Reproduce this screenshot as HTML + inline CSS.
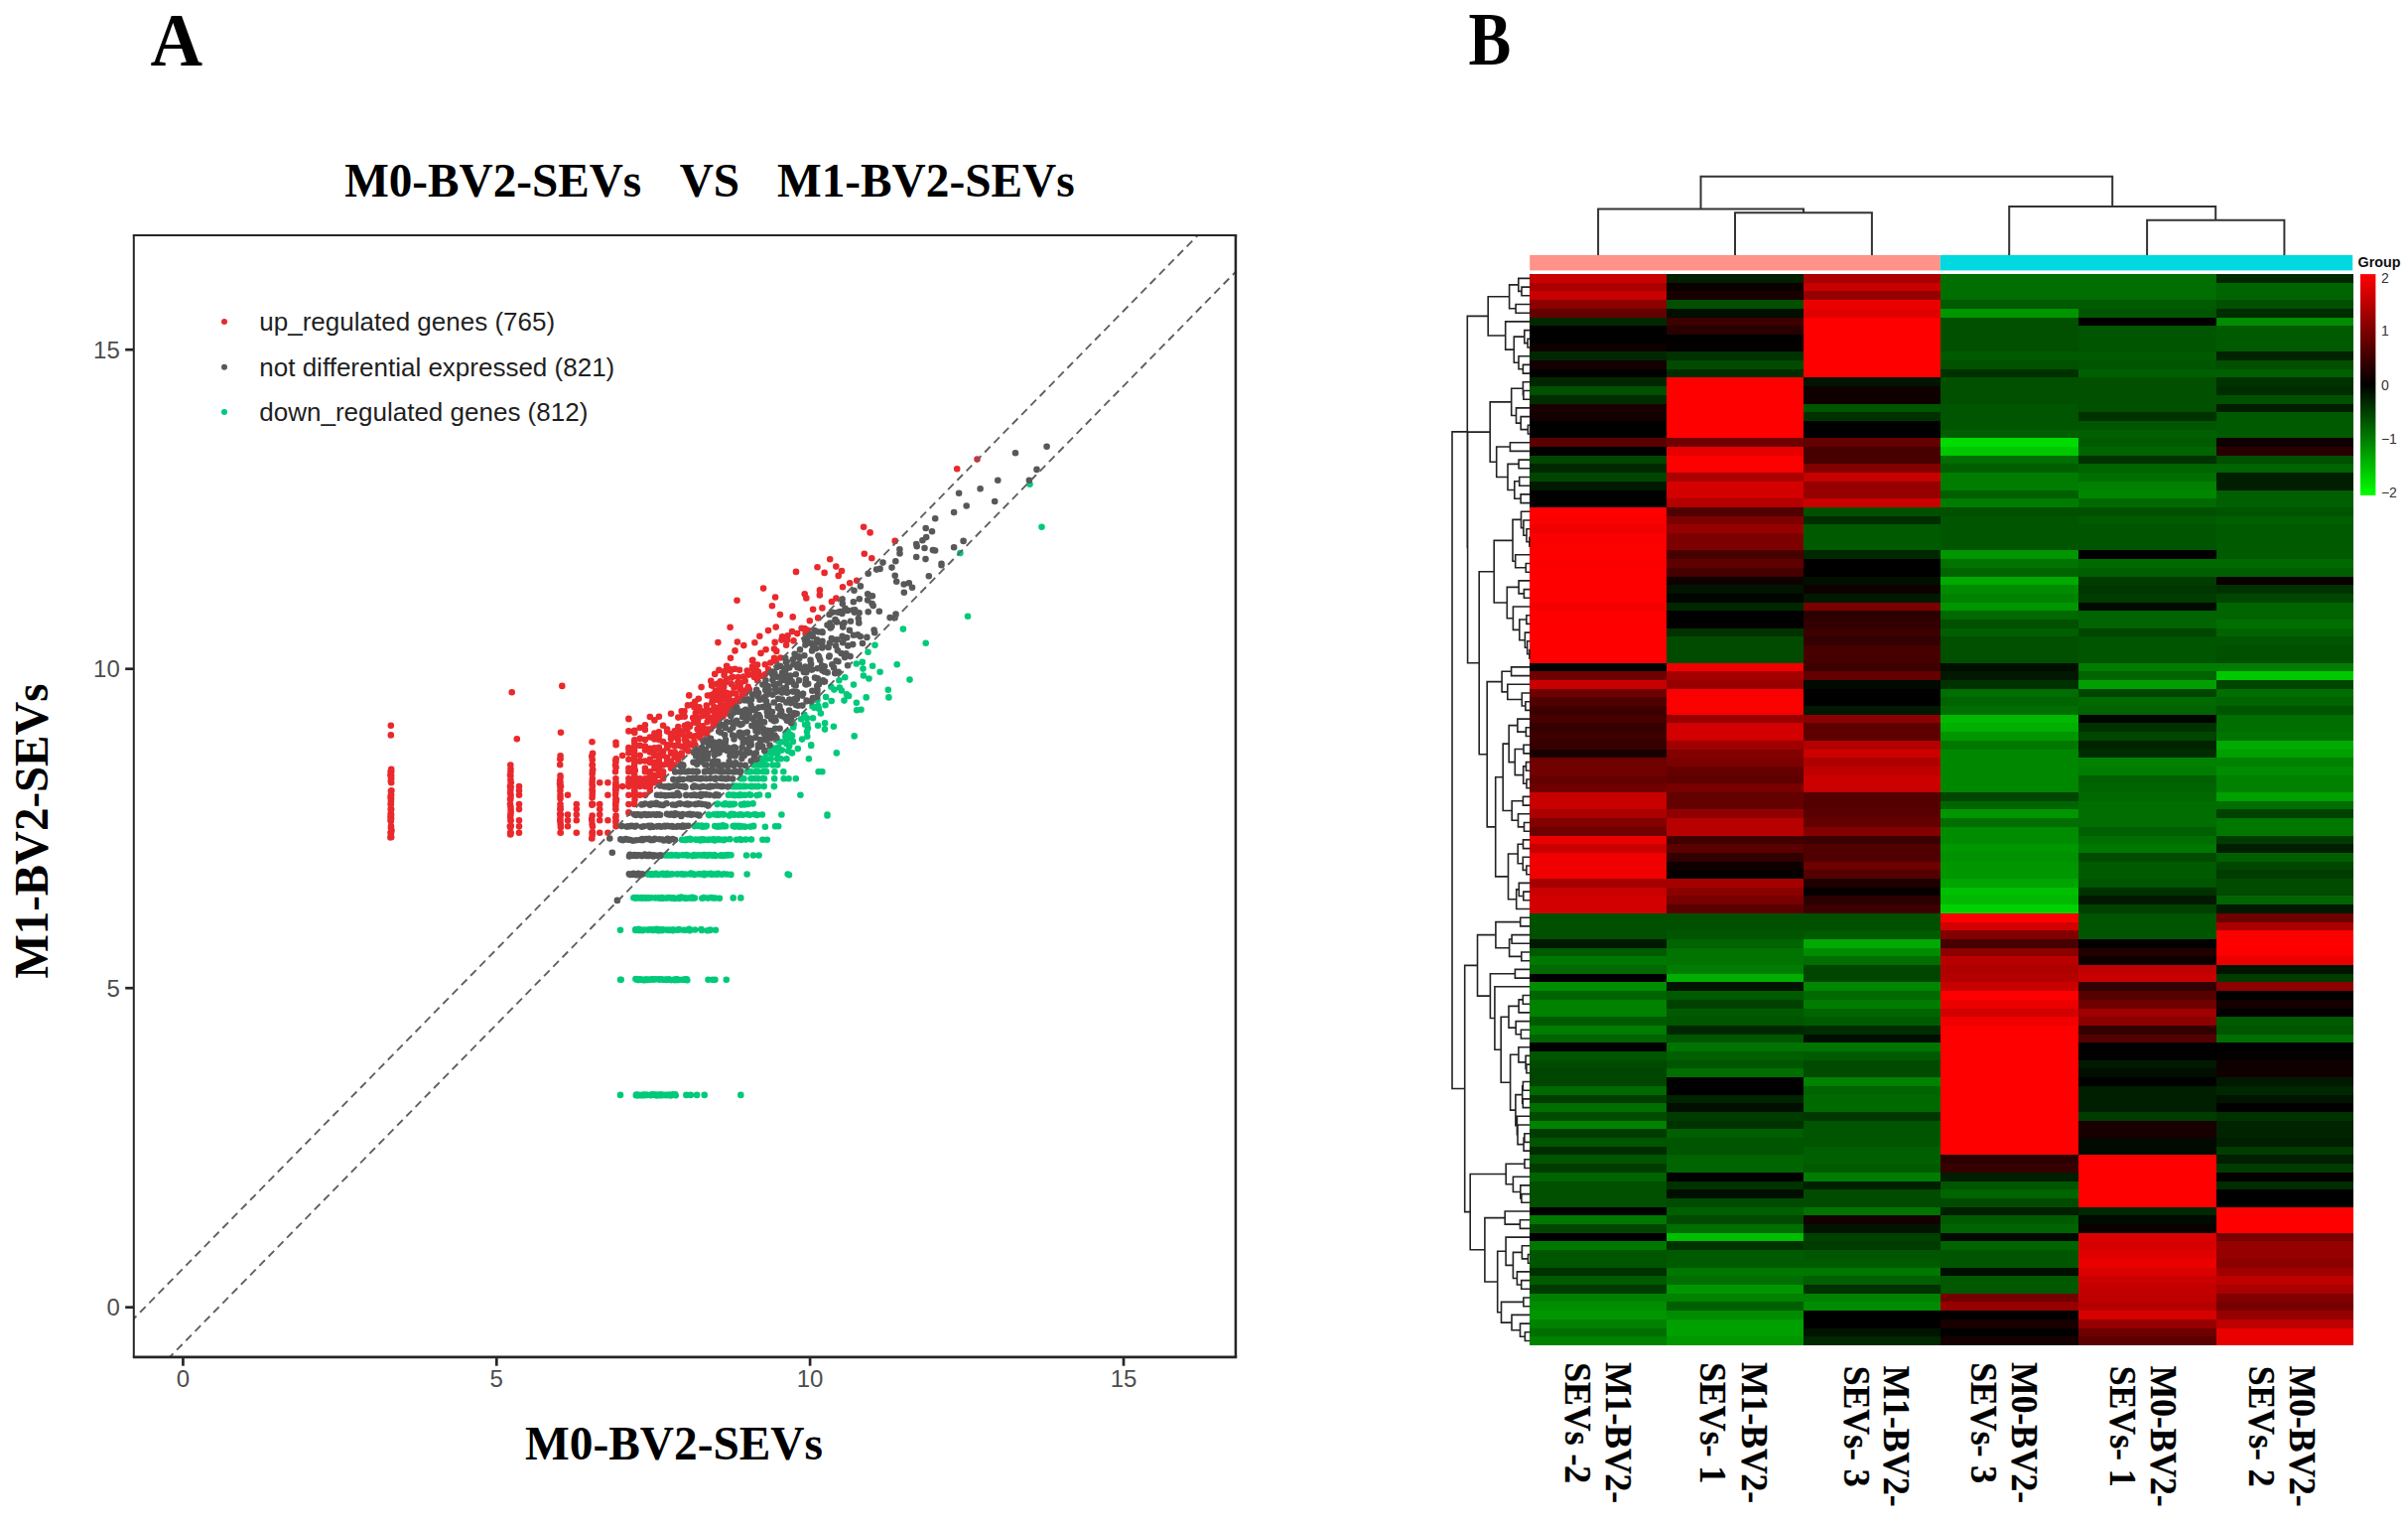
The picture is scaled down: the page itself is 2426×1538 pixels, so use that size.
<!DOCTYPE html>
<html lang="en"><head><meta charset="utf-8"><title>Figure</title>
<style>html,body{margin:0;padding:0;background:#fff}svg{display:block}</style></head>
<body>
<svg width="2426" height="1538" viewBox="0 0 2426 1538" role="img" aria-label="Scatter plot and heatmap">
<rect width="2426" height="1538" fill="#fff"/>
<text x="151.4" y="65.8" font-size="76" textLength="52.6" lengthAdjust="spacingAndGlyphs" font-family="'Liberation Serif', serif" font-weight="bold">A</text>
<text x="1479.6" y="64.8" font-size="75.5" textLength="42.8" lengthAdjust="spacingAndGlyphs" font-family="'Liberation Serif', serif" font-weight="bold">B</text>
<text x="347.2" y="197.9" font-size="47.5" textLength="299" lengthAdjust="spacingAndGlyphs" font-family="'Liberation Serif', serif" font-weight="bold">M0-BV2-SEVs</text>
<text x="684.7" y="197.9" font-size="47.5" textLength="60.4" lengthAdjust="spacingAndGlyphs" font-family="'Liberation Serif', serif" font-weight="bold">VS</text>
<text x="783" y="197.9" font-size="47.5" textLength="299.6" lengthAdjust="spacingAndGlyphs" font-family="'Liberation Serif', serif" font-weight="bold">M1-BV2-SEVs</text>
<text x="529" y="1470.3" font-size="47.5" textLength="300" lengthAdjust="spacingAndGlyphs" font-family="'Liberation Serif', serif" font-weight="bold">M0-BV2-SEVs</text>
<text transform="translate(48.0 985.5) rotate(-90)" font-size="47.5" textLength="297" lengthAdjust="spacingAndGlyphs" font-family="'Liberation Serif', serif" font-weight="bold">M1-BV2-SEVs</text>
<clipPath id="pc"><rect x="134.8" y="236.9" width="1110.1" height="1130.0"/></clipPath>
<g clip-path="url(#pc)">
<path d="M393.8 820.5h0M393.8 787.0h0M393.9 823.6h0M393.6 802.0h0M394.0 832.2h0M393.8 802.2h0M393.9 810.0h0M394.0 796.9h0M394.2 784.3h0M393.6 819.9h0M393.9 815.4h0M393.8 810.2h0M394.2 815.1h0M393.4 780.7h0M393.9 796.7h0M393.9 807.4h0M393.9 842.5h0M394.1 824.4h0M393.6 810.0h0M394.5 836.2h0M393.9 810.0h0M393.9 816.0h0M394.2 781.3h0M393.4 843.4h0M393.5 838.7h0M393.6 777.2h0M393.9 833.7h0M393.7 814.9h0M394.2 774.8h0M393.9 806.0h0M394.4 796.3h0M394.3 776.9h0M394.1 804.4h0M393.8 826.2h0M393.8 777.2h0M394.1 800.5h0M394.1 838.7h0M394.2 788.2h0M394.2 843.3h0M394.1 820.4h0M393.5 826.2h0M393.5 823.0h0M394.0 784.1h0M393.5 803.3h0M393.8 827.2h0M394.0 800.7h0M514.4 840.3h0M514.4 777.2h0M513.8 832.2h0M514.3 770.5h0M514.7 838.7h0M514.6 800.7h0M514.2 823.2h0M514.1 792.1h0M514.5 840.2h0M514.1 792.7h0M514.4 795.8h0M514.8 831.9h0M514.5 820.5h0M514.5 819.5h0M514.5 803.2h0M514.6 815.1h0M514.0 780.8h0M514.6 816.6h0M514.4 781.6h0M514.4 826.4h0M514.7 826.2h0M514.4 826.2h0M514.6 788.2h0M514.4 785.5h0M514.5 812.9h0M514.4 826.2h0M514.6 838.7h0M514.2 840.4h0M514.1 838.7h0M514.1 798.5h0M514.5 826.2h0M514.0 805.0h0M514.0 792.1h0M514.7 792.8h0M514.5 774.6h0M514.3 820.5h0M514.8 788.2h0M514.7 817.7h0M514.3 833.5h0M514.3 805.2h0M514.0 810.0h0M514.3 780.5h0M564.3 789.8h0M564.3 788.2h0M564.5 788.0h0M564.5 781.2h0M564.2 786.1h0M564.3 792.1h0M565.0 792.1h0M564.5 800.7h0M564.2 770.3h0M564.3 764.4h0M564.7 815.1h0M564.2 819.8h0M564.3 815.1h0M564.5 802.6h0M565.0 820.5h0M564.3 820.5h0M564.6 764.2h0M564.4 796.4h0M564.2 826.2h0M564.6 782.7h0M564.5 823.7h0M564.6 838.7h0M564.6 812.7h0M564.5 804.2h0M564.7 829.9h0M564.8 838.7h0M564.9 833.2h0M564.5 826.2h0M564.6 828.7h0M564.7 820.5h0M564.6 820.5h0M564.6 761.3h0M564.0 789.3h0M564.5 823.7h0M564.8 831.6h0M564.5 810.0h0M596.7 841.0h0M596.6 770.4h0M596.5 838.7h0M596.8 776.9h0M597.0 832.2h0M596.9 796.7h0M596.9 770.5h0M597.2 775.4h0M596.4 844.4h0M596.3 809.7h0M596.8 784.3h0M596.4 810.8h0M596.6 787.6h0M597.3 810.0h0M596.6 789.9h0M596.6 830.2h0M596.2 844.5h0M596.8 840.2h0M596.1 824.9h0M596.7 800.8h0M596.7 821.5h0M596.7 779.4h0M596.3 826.2h0M596.9 838.0h0M596.6 838.7h0M596.6 803.2h0M596.9 791.7h0M596.7 764.9h0M597.1 758.9h0M596.8 784.3h0M596.5 747.3h0M596.8 765.1h0M596.5 795.6h0M596.2 761.8h0M596.8 796.3h0M596.8 798.2h0M620.1 795.2h0M620.3 805.2h0M620.5 747.7h0M620.2 765.9h0M620.3 808.6h0M620.3 798.2h0M620.6 821.5h0M620.3 827.7h0M620.7 764.2h0M621.0 792.1h0M620.0 770.5h0M620.5 832.2h0M620.6 750.3h0M620.4 784.3h0M620.3 811.6h0M620.6 832.2h0M620.5 788.2h0M620.4 814.9h0M620.1 800.8h0M620.2 790.1h0M620.3 815.1h0M620.4 793.1h0M620.5 767.3h0M620.2 809.9h0M620.3 823.6h0M620.6 826.2h0M620.3 792.1h0M620.7 795.0h0M621.0 805.2h0M620.8 807.3h0M620.6 773.1h0M620.7 805.2h0M620.4 806.8h0M620.0 777.2h0M639.5 791.8h0M639.1 796.3h0M639.5 805.2h0M639.3 801.4h0M639.5 788.2h0M639.2 782.3h0M639.3 738.0h0M638.9 752.9h0M639.6 788.2h0M639.1 780.7h0M639.2 796.3h0M639.2 797.4h0M639.1 796.3h0M638.9 765.6h0M639.0 771.4h0M638.8 787.0h0M639.3 746.6h0M639.5 797.0h0M639.6 767.3h0M639.3 792.1h0M639.2 784.3h0M639.1 796.3h0M639.8 776.1h0M638.9 762.2h0M639.1 752.9h0M639.2 786.1h0M639.3 745.2h0M639.4 767.3h0M639.1 808.7h0M639.0 765.8h0M639.5 760.7h0M639.3 748.7h0M523.0 832.2h0M523.0 796.3h0M523.0 826.2h0M523.0 796.3h0M523.0 810.0h0M523.0 815.1h0M523.0 838.7h0M523.0 800.7h0M523.0 838.7h0M523.0 792.1h0M572.0 800.7h0M572.0 826.2h0M572.0 832.2h0M572.0 800.7h0M572.0 820.5h0M572.0 832.2h0M572.0 820.5h0M572.0 832.2h0M572.0 820.5h0M580.8 820.5h0M580.8 810.0h0M580.8 815.1h0M580.8 838.7h0M580.8 826.2h0M580.8 826.2h0M580.8 810.0h0M604.2 838.7h0M604.2 810.0h0M604.2 788.2h0M604.2 815.1h0M604.2 826.2h0M604.2 810.0h0M604.2 820.5h0M612.4 788.2h0M612.4 838.7h0M612.4 826.2h0M612.4 838.7h0M612.4 800.7h0M612.4 826.2h0M612.4 788.2h0M393.8 730.7h0M393.8 740.4h0M515.7 697.3h0M520.8 744.2h0M565.0 737.8h0M566.3 690.9h0M964.2 472.2h0M984.5 462.6h0M870.1 530.8h0M901.7 544.9h0M878.3 562.3h0M842.3 570.6h0M848.0 575.1h0M856.2 587.3h0M742.5 604.7h0M781.1 601.5h0M810.7 598.3h0M825.9 594.4h0M735.6 631.7h0M765.3 640.7h0M798.7 621.4h0M771.6 654.2h0M787.4 644.6h0M803.2 638.1h0M815.8 625.3h0M828.4 612.4h0M837.9 606.0h0M644.7 760.9h0M691.1 754.2h0M663.9 765.5h0M722.4 688.9h0M639.2 800.7h0M686.7 739.2h0M659.4 725.4h0M716.0 734.3h0M649.9 784.3h0M698.2 723.1h0M668.1 777.2h0M730.9 702.5h0M627.1 761.0h0M676.0 766.9h0M654.8 768.0h0M703.8 703.7h0M639.2 810.0h0M690.2 745.4h0M663.9 754.0h0M719.0 727.7h0M633.4 784.3h0M683.3 732.0h0M659.4 780.7h0M711.5 715.4h0M644.7 733.0h0M697.5 750.5h0M672.1 763.2h0M732.0 684.1h0M633.4 810.0h0M679.7 751.2h0M654.8 742.5h0M706.6 732.3h0M644.7 766.8h0M694.2 700.4h0M668.1 784.3h0M723.7 714.3h0M639.2 765.9h0M686.7 760.0h0M659.4 767.7h0M715.4 700.2h0M649.9 788.2h0M699.3 727.6h0M672.1 734.5h0M734.7 713.8h0M627.1 792.1h0M676.0 740.7h0M649.9 792.1h0M703.0 728.4h0M639.2 746.5h0M690.2 750.8h0M663.9 760.0h0M720.2 678.9h0M639.2 810.0h0M683.3 750.6h0M659.4 753.2h0M709.2 735.9h0M649.9 773.8h0M697.4 709.9h0M672.1 767.9h0M728.2 695.1h0M633.4 724.2h0M676.0 773.8h0M654.8 780.7h0M707.4 716.2h0M644.7 800.7h0M692.0 741.5h0M663.9 744.9h0M722.8 719.8h0M639.2 780.7h0M683.3 722.6h0M659.4 788.2h0M715.5 722.8h0M649.9 755.6h0M699.4 747.1h0M668.1 761.0h0M736.8 674.3h0M633.4 800.7h0M676.0 750.1h0M649.9 735.0h0M705.5 742.9h0M644.7 784.3h0M690.0 730.7h0M663.9 780.7h0M719.4 712.1h0M633.4 753.0h0M683.3 760.5h0M659.4 759.6h0M716.3 685.9h0M644.7 800.7h0M697.2 741.6h0M672.1 750.2h0M728.6 719.1h0M633.4 788.2h0M679.7 738.1h0M654.8 784.3h0M708.0 719.3h0M644.7 743.9h0M693.4 756.4h0M668.1 770.5h0M725.6 692.7h0M639.2 810.0h0M690.3 742.7h0M663.9 740.7h0M718.9 722.2h0M649.9 766.5h0M700.2 706.7h0M676.0 770.5h0M736.8 698.5h0M633.4 758.3h0M676.0 768.1h0M649.9 773.8h0M699.4 712.3h0M639.2 796.3h0M686.7 736.5h0M663.9 721.7h0M718.8 730.9h0M633.4 792.1h0M683.3 740.5h0M654.8 792.1h0M710.7 720.5h0M644.7 750.9h0M694.0 749.6h0M668.1 756.8h0M732.1 670.8h0M633.4 818.7h0M679.7 757.4h0M654.8 753.8h0M705.6 740.0h0M639.2 780.7h0M689.7 721.8h0M663.9 777.2h0M724.0 702.5h0M639.2 735.8h0M686.7 761.5h0M659.4 770.5h0M717.0 701.2h0M649.9 792.1h0M695.0 731.7h0M672.1 736.6h0M732.8 706.2h0M633.4 777.2h0M676.0 718.8h0M654.8 796.1h0M708.1 731.2h0M639.2 769.1h0M686.7 758.6h0M663.9 768.0h0M720.9 695.5h0M633.4 800.7h0M683.3 745.6h0M659.4 738.6h0M711.1 738.7h0M644.7 784.3h0M700.8 718.3h0M668.1 777.2h0M728.6 703.9h0M633.4 754.6h0M679.7 762.5h0M654.8 764.9h0M706.6 692.1h0M644.7 800.7h0M694.5 739.8h0M668.1 747.1h0M730.3 714.8h0M639.2 777.2h0M686.7 721.7h0M663.9 777.2h0M717.4 707.8h0M649.9 730.2h0M700.5 750.5h0M672.1 766.2h0M736.8 682.8h0M633.4 810.0h0M676.0 757.7h0M649.9 752.9h0M704.7 735.6h0M639.2 773.8h0M689.5 716.2h0M663.9 788.2h0M720.2 714.8h0M633.4 764.8h0M683.3 764.1h0M659.4 769.4h0M712.9 700.5h0M644.7 792.1h0M692.4 733.6h0M668.1 730.8h0M731.8 716.9h0M633.4 788.2h0M679.7 736.2h0M654.8 788.2h0M707.4 720.9h0M644.7 743.7h0M692.6 747.5h0M663.9 752.8h0M724.4 674.9h0M639.2 810.0h0M686.7 751.7h0M659.4 754.9h0M712.9 734.5h0M649.9 777.2h0M700.4 711.3h0M672.1 769.5h0M736.8 689.0h0M633.4 736.4h0M676.0 773.8h0M654.8 777.2h0M702.5 716.3h0M639.2 800.7h0M690.0 743.1h0M663.9 740.6h0M720.1 719.8h0M633.4 773.8h0M686.7 716.2h0M659.4 788.2h0M712.9 721.6h0M649.9 751.5h0M694.8 749.8h0M668.1 760.0h0M729.7 678.8h0M633.4 800.7h0M679.7 742.3h0M654.8 722.0h0M712.1 739.2h0M644.7 788.2h0M693.0 729.6h0M668.1 780.7h0M726.2 706.4h0M639.2 756.1h0M686.7 758.6h0M659.4 761.0h0M717.1 690.6h0M649.9 800.7h0M702.6 734.6h0M676.0 744.2h0M736.8 708.7h0M627.1 792.1h0M676.0 739.2h0M649.9 792.1h0M703.7 723.6h0M639.2 737.6h0M686.7 761.5h0M659.4 773.8h0M719.1 698.7h0M633.4 810.0h0M679.7 751.0h0M659.4 744.4h0M712.6 727.1h0M644.7 766.6h0M692.9 710.4h0M668.1 784.3h0M726.9 711.6h0M633.4 773.8h0M679.7 770.5h0M654.8 777.2h0M704.5 712.2h0M639.2 800.7h0M692.2 735.6h0M663.9 737.2h0M721.4 728.0h0M633.4 792.1h0M683.3 737.3h0M659.4 784.3h0M714.9 715.7h0M649.9 745.1h0M700.4 741.3h0M672.1 753.3h0M732.4 671.1h0M633.4 818.2h0M676.0 758.4h0M654.8 757.4h0M704.2 739.8h0M639.2 777.2h0M686.7 721.8h0M663.9 773.8h0M717.7 705.4h0M633.4 723.7h0M683.3 764.9h0M654.8 777.2h0M711.8 710.5h0M729.3 691.7h0M767.2 680.7h0M745.2 690.4h0M830.6 576.9h0M724.9 719.8h0M759.1 674.6h0M740.5 655.4h0M811.6 637.9h0M731.5 710.8h0M780.7 646.9h0M747.8 700.4h0M721.3 697.0h0M753.3 693.3h0M734.4 701.6h0M785.9 619.1h0M728.5 721.4h0M764.0 676.9h0M743.7 682.1h0M824.2 622.4h0M724.1 713.1h0M757.9 665.2h0M739.4 706.1h0M798.0 636.1h0M730.2 676.0h0M774.1 674.4h0M745.6 694.2h0M844.7 579.9h0M723.5 723.7h0M754.3 679.6h0M736.0 675.6h0M792.1 649.8h0M729.1 700.7h0M769.1 592.6h0M744.6 706.2h0M849.0 591.3h0M726.2 697.7h0M763.1 685.3h0M741.3 698.8h0M812.3 602.4h0M732.5 713.8h0M780.0 653.6h0M749.3 650.1h0M863.2 584.7h0M721.2 720.8h0M752.7 675.5h0M734.7 713.0h0M782.3 655.9h0M726.6 688.1h0M764.0 680.2h0M743.3 687.6h0M823.5 571.2h0M723.7 725.1h0M758.8 679.9h0M738.1 681.8h0M799.5 645.4h0M731.0 704.7h0M774.0 635.1h0M748.1 695.9h0M870.8 557.7h0M723.4 647.1h0M755.0 694.5h0M735.9 708.4h0M788.1 641.3h0M730.4 718.4h0M770.8 669.3h0M745.0 674.8h0M842.4 602.5h0M726.1 709.0h0M760.4 647.3h0M740.0 711.1h0M807.6 632.8h0M732.1 697.9h0M781.4 665.7h0M750.7 685.7h0M876.6 536.4h0M722.0 723.6h0M753.7 679.6h0M736.0 662.8h0M786.3 662.5h0M728.4 713.6h0M766.5 657.9h0M743.0 704.1h0M819.1 613.7h0M725.8 686.3h0M760.0 682.0h0M739.4 692.5h0M802.0 575.9h0M732.5 718.5h0M780.0 662.9h0M749.1 681.5h0M723.5 715.0h0M758.3 664.8h0M736.9 710.1h0M793.6 640.3h0M729.6 680.0h0M770.8 679.2h0M746.4 693.7h0M825.8 599.4h0M726.3 721.2h0M762.2 675.4h0M740.4 673.8h0M810.7 633.0h0M733.6 699.9h0M777.9 610.3h0M751.3 697.9h0M721.0 704.9h0M753.7 691.7h0M733.5 704.4h0M781.7 631.6h0M726.2 717.9h0M763.1 669.5h0M742.9 646.6h0M814.1 634.8h0M724.5 718.5h0M758.1 671.3h0M739.2 708.5h0M792.9 644.9h0M730.9 687.2h0M776.3 667.5h0M746.3 687.9h0M836.2 563.2h0M722.7 725.6h0" stroke="#e9292c" stroke-width="6.6" stroke-linecap="round" fill="none"/>
<path d="M651.9 1102.9h0M657.8 1102.8h0M644.4 1103.1h0M678.6 1102.7h0M669.8 1103.0h0M641.1 1102.5h0M676.6 1102.6h0M641.6 1103.1h0M661.8 1103.4h0M655.8 1103.3h0M666.9 1102.6h0M640.8 1103.1h0M671.4 1102.8h0M674.1 1102.6h0M665.8 1102.4h0M660.3 1103.0h0M677.8 1102.4h0M665.7 1103.1h0M648.0 1102.9h0M666.9 1103.3h0M666.2 1102.7h0M680.2 1102.3h0M652.1 1102.8h0M646.4 1103.3h0M655.9 1103.1h0M659.1 1102.3h0M656.7 1102.4h0M645.2 1103.0h0M648.0 1103.2h0M649.6 1102.5h0M671.6 1103.0h0M662.1 1102.6h0M657.3 1102.8h0M649.4 1103.0h0M661.1 1102.9h0M649.5 1103.1h0M665.8 1102.7h0M680.7 1103.2h0M640.8 1103.2h0M667.1 1102.5h0M658.7 1102.7h0M641.9 1102.6h0M648.2 1102.5h0M675.7 1103.5h0M642.4 1103.4h0M663.6 1103.1h0M659.6 1102.9h0M664.9 1103.2h0M642.2 1103.0h0M674.8 1102.7h0M647.5 1102.9h0M671.8 1103.2h0M625.0 1102.9h0M691.4 1102.9h0M695.8 1102.9h0M702.1 1102.9h0M709.7 1102.9h0M746.3 1102.9h0M676.4 987.1h0M650.3 987.0h0M650.9 986.8h0M692.3 987.3h0M656.1 986.6h0M645.0 986.5h0M642.3 986.4h0M691.2 986.9h0M658.7 986.4h0M648.9 986.7h0M640.4 986.1h0M680.5 986.3h0M644.4 986.8h0M681.7 986.2h0M644.6 986.2h0M643.1 986.9h0M648.3 987.2h0M653.2 986.5h0M655.3 986.6h0M682.9 986.8h0M657.1 986.4h0M668.0 986.7h0M670.6 986.5h0M687.2 986.8h0M666.7 986.4h0M641.1 986.4h0M660.8 986.3h0M683.7 986.9h0M643.6 986.9h0M679.4 986.7h0M651.6 986.6h0M652.6 986.9h0M688.7 986.7h0M674.3 986.7h0M642.4 986.9h0M664.4 986.8h0M679.5 986.6h0M681.0 987.1h0M649.6 987.1h0M690.1 986.4h0M643.8 986.9h0M691.8 986.4h0M649.7 986.5h0M679.3 987.1h0M673.8 986.4h0M664.6 986.7h0M663.5 986.4h0M658.6 986.8h0M651.5 986.8h0M646.3 986.5h0M671.4 986.9h0M691.8 986.8h0M675.7 986.9h0M669.2 986.8h0M646.2 986.8h0M651.0 986.5h0M671.3 986.6h0M663.8 986.2h0M625.0 986.7h0M625.7 986.7h0M713.5 986.7h0M717.9 986.7h0M720.4 986.7h0M731.8 986.7h0M682.2 936.6h0M643.1 936.8h0M662.7 936.6h0M656.1 936.3h0M658.1 936.6h0M707.0 936.9h0M664.4 937.2h0M664.1 936.2h0M715.4 936.5h0M673.6 936.9h0M677.9 937.2h0M682.8 936.7h0M694.4 936.9h0M667.5 936.4h0M700.2 936.5h0M660.2 936.6h0M640.2 936.4h0M640.4 936.3h0M690.6 936.8h0M657.2 936.6h0M684.0 936.1h0M721.0 936.8h0M643.3 935.9h0M677.9 936.5h0M694.9 937.3h0M668.3 936.6h0M715.3 936.9h0M645.3 936.5h0M664.3 937.0h0M647.8 937.1h0M688.7 936.7h0M657.8 936.9h0M646.3 936.6h0M679.4 936.8h0M642.2 936.2h0M660.0 936.6h0M668.0 936.3h0M684.3 936.4h0M643.6 936.1h0M640.3 936.8h0M648.9 936.6h0M674.6 936.8h0M712.7 937.2h0M667.2 937.1h0M643.2 936.9h0M652.1 936.6h0M654.6 936.4h0M677.7 937.0h0M671.5 936.6h0M665.2 936.6h0M694.9 936.6h0M640.3 937.0h0M694.4 935.8h0M660.1 936.1h0M662.4 937.1h0M653.4 936.6h0M677.7 936.5h0M675.3 936.5h0M706.5 936.0h0M667.1 936.4h0M645.9 937.0h0M662.1 935.7h0M625.0 936.7h0M690.4 904.6h0M684.0 904.6h0M677.4 904.8h0M641.3 904.0h0M686.3 903.6h0M678.4 904.3h0M683.7 904.4h0M656.4 904.3h0M691.9 904.7h0M689.8 904.7h0M651.1 904.3h0M668.7 904.6h0M680.0 905.0h0M646.6 904.7h0M720.7 904.5h0M670.5 904.5h0M672.8 904.4h0M651.2 904.3h0M680.2 904.7h0M653.9 904.6h0M695.7 904.4h0M653.7 904.4h0M668.5 904.6h0M640.3 904.6h0M660.4 904.4h0M650.2 904.7h0M666.5 904.7h0M692.2 904.8h0M699.9 904.6h0M646.7 904.1h0M649.5 904.4h0M673.6 904.1h0M697.5 904.8h0M695.0 904.4h0M643.6 904.4h0M640.4 904.6h0M713.4 904.6h0M647.1 904.6h0M652.1 904.4h0M667.4 904.3h0M716.6 904.1h0M665.7 904.5h0M709.8 904.3h0M647.4 904.3h0M649.5 904.4h0M663.8 904.2h0M698.5 904.0h0M664.3 904.7h0M697.6 903.8h0M639.1 904.1h0M638.4 904.2h0M684.6 904.9h0M676.2 904.6h0M642.7 904.4h0M707.3 904.7h0M684.6 904.5h0M642.8 904.3h0M647.1 904.6h0M719.1 904.6h0M639.4 904.6h0M708.9 904.1h0M676.4 904.4h0M666.9 904.1h0M689.2 904.3h0M651.4 904.5h0M724.9 904.8h0M738.7 904.4h0M746.3 904.4h0M659.3 880.5h0M736.4 880.9h0M660.9 879.8h0M695.3 880.5h0M666.7 880.1h0M663.3 880.9h0M671.3 880.9h0M709.7 881.2h0M721.4 880.5h0M673.1 880.6h0M710.4 880.5h0M723.5 879.8h0M729.1 880.3h0M722.4 880.7h0M711.6 880.2h0M705.7 880.4h0M709.6 880.2h0M719.6 880.6h0M659.5 880.2h0M670.3 880.2h0M732.3 880.5h0M657.5 880.6h0M653.7 880.5h0M723.7 880.5h0M703.8 880.3h0M652.7 880.6h0M657.2 880.4h0M709.3 879.8h0M656.0 880.4h0M695.4 880.3h0M666.4 880.2h0M717.3 880.7h0M655.2 880.3h0M654.5 880.5h0M673.7 880.6h0M713.5 880.3h0M672.2 879.8h0M686.4 880.4h0M674.9 880.8h0M655.9 880.9h0M660.9 880.4h0M670.1 880.6h0M659.3 880.7h0M721.6 880.2h0M716.7 880.8h0M700.0 880.7h0M699.5 880.9h0M691.0 880.5h0M677.2 880.4h0M682.3 880.4h0M667.9 880.8h0M687.5 880.4h0M689.0 880.7h0M653.4 880.3h0M659.0 880.6h0M697.9 880.3h0M652.2 880.3h0M727.2 880.7h0M710.0 880.2h0M659.8 880.2h0M696.1 879.6h0M670.3 880.9h0M716.1 879.9h0M704.9 880.3h0M667.9 879.9h0M668.2 880.2h0M793.7 880.5h0M752.6 880.5h0M716.4 861.3h0M701.0 861.8h0M670.1 861.5h0M710.2 861.1h0M728.9 861.5h0M692.8 861.8h0M729.1 862.0h0M681.2 861.3h0M719.7 861.1h0M698.0 861.6h0M689.5 861.2h0M732.5 861.4h0M691.7 861.0h0M733.8 861.0h0M736.2 861.3h0M687.6 861.2h0M699.3 861.1h0M683.5 861.7h0M680.4 861.4h0M714.5 861.0h0M697.7 862.1h0M733.2 861.4h0M725.7 861.8h0M683.9 861.6h0M709.0 861.5h0M677.0 861.6h0M706.5 861.5h0M675.5 861.5h0M733.2 861.4h0M726.5 861.3h0M670.3 861.4h0M671.7 861.5h0M681.4 861.3h0M731.2 861.2h0M731.4 861.4h0M676.3 861.1h0M692.8 861.8h0M703.1 861.4h0M698.1 861.6h0M670.8 861.3h0M719.1 861.8h0M706.4 861.4h0M717.5 861.8h0M692.8 861.4h0M720.8 861.9h0M712.4 862.0h0M674.7 861.4h0M736.5 861.2h0M672.6 861.5h0M711.7 861.3h0M708.8 861.0h0M707.0 861.6h0M752.0 861.5h0M758.9 861.5h0M764.6 861.5h0M756.7 845.5h0M735.4 845.2h0M720.0 846.4h0M692.2 845.7h0M745.7 845.2h0M742.0 845.8h0M714.9 845.7h0M700.6 845.6h0M719.2 845.3h0M702.0 845.7h0M708.8 845.5h0M689.5 845.9h0M687.1 845.7h0M757.0 845.5h0M746.7 845.9h0M691.5 845.9h0M717.3 845.6h0M713.4 845.9h0M718.2 845.6h0M727.4 845.8h0M707.4 845.8h0M714.3 845.8h0M707.5 845.9h0M729.0 846.2h0M693.2 845.5h0M751.4 845.6h0M692.1 845.4h0M723.7 845.4h0M690.9 846.1h0M701.6 845.7h0M705.7 846.4h0M710.3 845.8h0M704.9 845.7h0M709.4 846.0h0M730.5 845.6h0M706.3 846.1h0M694.1 845.5h0M695.8 845.7h0M703.4 845.7h0M707.0 845.4h0M703.0 845.8h0M720.4 845.8h0M695.3 844.7h0M724.9 845.6h0M768.4 845.7h0M772.8 845.7h0M707.7 832.7h0M750.5 832.7h0M744.8 832.7h0M709.4 832.4h0M770.9 832.8h0M723.3 832.2h0M704.3 831.9h0M729.3 832.3h0M723.9 832.0h0M699.7 832.1h0M727.9 831.9h0M725.2 832.0h0M750.6 832.7h0M747.6 832.4h0M702.5 831.6h0M744.5 831.7h0M711.8 831.8h0M759.2 831.9h0M728.1 832.3h0M741.6 832.3h0M728.3 831.4h0M740.0 832.6h0M738.6 832.0h0M720.2 832.1h0M759.2 832.2h0M741.3 831.9h0M739.2 831.9h0M710.9 832.5h0M706.8 831.5h0M731.1 832.2h0M750.4 832.6h0M755.8 832.6h0M725.7 832.4h0M723.7 832.4h0M722.4 832.6h0M740.9 832.2h0M781.1 832.2h0M784.2 832.2h0M719.2 820.2h0M761.0 820.3h0M724.2 820.6h0M745.9 820.4h0M725.6 820.2h0M761.7 820.6h0M729.2 820.4h0M734.9 821.4h0M739.2 820.6h0M740.2 820.6h0M748.4 820.7h0M755.3 820.7h0M722.7 820.1h0M736.7 819.9h0M714.5 821.1h0M724.4 820.5h0M727.5 820.1h0M752.7 820.2h0M760.1 820.3h0M762.7 820.9h0M743.9 820.7h0M744.5 820.5h0M721.4 820.6h0M739.2 820.1h0M713.9 820.5h0M724.1 820.7h0M722.6 820.8h0M767.9 820.5h0M787.4 820.5h0M833.5 820.5h0M728.8 810.2h0M753.4 809.9h0M739.9 809.8h0M723.0 809.6h0M722.6 810.1h0M750.0 809.5h0M758.6 809.4h0M738.8 810.2h0M737.6 809.8h0M749.9 810.4h0M753.8 809.9h0M730.7 809.2h0M734.2 810.2h0M735.0 809.9h0M735.5 810.4h0M730.3 810.2h0M746.7 810.3h0M738.2 810.1h0M734.4 810.5h0M747.0 810.6h0M739.2 800.9h0M746.6 800.7h0M745.6 800.4h0M734.4 800.6h0M747.3 800.7h0M743.7 801.0h0M773.9 801.0h0M740.7 800.7h0M765.0 800.5h0M740.7 801.1h0M755.2 800.4h0M734.8 800.5h0M762.6 801.1h0M745.9 800.9h0M1049.5 530.8h0M1037.5 487.7h0M967.4 557.1h0M975.0 620.8h0M932.7 647.8h0M909.9 633.6h0M894.8 694.7h0M895.4 702.4h0M886.6 676.7h0M874.5 656.8h0M881.5 649.7h0M833.5 821.4h0M795.0 881.2h0M860.0 689.6h0M850.5 705.6h0M872.7 702.4h0M863.2 715.3h0M761.4 792.1h0M791.3 742.1h0M770.5 770.5h0M875.5 683.5h0M741.7 792.1h0M795.2 751.4h0M824.6 777.2h0M823.5 705.2h0M749.5 784.3h0M814.0 733.6h0M765.6 764.2h0M756.2 800.7h0M771.0 764.2h0M760.5 784.3h0M831.1 728.4h0M740.0 792.1h0M792.1 745.6h0M778.5 770.5h0M845.4 685.2h0M745.3 792.1h0M803.8 754.1h0M756.5 777.2h0M837.7 706.0h0M789.7 784.3h0M792.6 737.5h0M771.5 764.2h0M738.4 792.1h0M783.4 758.4h0M780.2 784.3h0M824.2 711.1h0M758.5 792.1h0M860.7 741.4h0M759.2 770.5h0M868.8 666.9h0M757.2 792.1h0M778.9 753.6h0M767.5 770.5h0M853.0 699.4h0M749.1 784.3h0M813.3 729.0h0M814.9 764.2h0M738.3 800.7h0M786.7 764.2h0M749.5 784.3h0M819.0 723.2h0M769.7 792.1h0M786.6 747.4h0M772.0 770.5h0M916.5 684.6h0M737.5 792.1h0M784.3 753.1h0M772.1 777.2h0M820.2 712.8h0M756.5 784.3h0M831.0 734.6h0M767.4 770.5h0M806.4 800.7h0M771.7 758.4h0M755.7 777.2h0M826.9 718.5h0M742.4 792.1h0M798.0 741.0h0M783.2 770.5h0M851.3 682.2h0M751.3 792.1h0M817.2 750.9h0M755.9 777.2h0M840.3 694.6h0M764.2 784.3h0M799.3 732.5h0M776.7 764.2h0M737.8 800.7h0M783.3 764.2h0M794.6 784.3h0M810.4 719.7h0M746.9 792.1h0M808.1 744.6h0M760.6 770.5h0M845.9 692.5h0M764.2 792.1h0M781.6 753.5h0M768.9 777.2h0M862.9 707.7h0M747.1 784.3h0M796.2 739.8h0M783.3 764.2h0M745.7 792.1h0M798.0 758.4h0M755.1 777.2h0M831.5 710.3h0M779.8 792.1h0M793.7 736.8h0M769.8 770.5h0M879.1 670.7h0M740.2 792.1h0M792.5 749.3h0M780.4 777.2h0M832.1 702.0h0M760.5 784.3h0M839.9 731.7h0M768.4 764.2h0M751.0 800.7h0M771.8 764.2h0M757.2 784.3h0M824.1 730.8h0M744.5 792.1h0M798.9 746.9h0M828.4 777.2h0M837.3 691.8h0M740.6 792.1h0M794.2 756.4h0M752.6 777.2h0M824.9 713.7h0M768.4 784.3h0M791.6 740.4h0M772.0 770.5h0M903.7 669.3h0M733.9 800.7h0M779.7 758.4h0M770.0 784.3h0M807.2 724.3h0M749.5 792.1h0M813.3 741.7h0M761.7 770.5h0M869.5 673.6h0M780.0 792.1h0M777.0 754.0h0M761.4 777.2h0M855.1 701.0h0M747.6 784.3h0M811.1 729.8h0M792.5 764.2h0M749.4 800.7h0M842.8 758.4h0M746.3 784.3h0M813.0 723.2h0M756.0 792.1h0M784.0 746.5h0M765.8 770.5h0M869.9 680.5h0M739.0 792.1h0M787.8 755.6h0M789.3 777.2h0M818.4 711.2h0M749.0 792.1h0M813.0 736.9h0M765.1 770.5h0M763.8 792.1h0M776.5 758.4h0M763.8 777.2h0M867.5 714.8h0M743.0 792.1h0M794.4 743.4h0M783.3 770.5h0M862.8 668.5h0M749.3 792.1h0M817.2 750.3h0M761.8 777.2h0M847.8 695.5h0M801.8 784.3h0M799.7 729.5h0" stroke="#00c97a" stroke-width="6.6" stroke-linecap="round" fill="none"/>
<path d="M614.3 844.5h0M616.8 858.7h0M621.9 906.9h0M1054.6 449.7h0M1023.0 456.2h0M1044.5 472.9h0M1005.3 483.8h0M987.6 492.2h0M1002.2 505.0h0M966.1 496.7h0M973.7 509.5h0M961.1 516.0h0M1036.9 483.8h0M932.7 532.0h0M939.0 535.3h0M942.1 554.5h0M923.2 548.1h0M961.1 551.3h0M948.5 569.3h0M923.2 561.0h0M935.8 580.3h0M970.6 544.9h0M660.5 809.9h0M776.1 737.2h0M716.0 777.5h0M846.6 616.1h0M646.6 862.1h0M758.1 723.5h0M701.3 755.0h0M823.2 702.1h0M674.7 832.3h0M790.2 684.6h0M732.0 784.2h0M874.7 616.2h0M627.3 846.2h0M741.0 768.2h0M684.3 801.1h0M800.6 658.7h0M658.0 861.2h0M770.0 727.4h0M712.9 761.0h0M840.0 672.4h0M640.9 846.3h0M756.6 710.3h0M700.3 810.1h0M816.5 664.9h0M671.5 792.3h0M785.6 733.7h0M726.2 770.8h0M865.8 603.2h0M634.8 881.0h0M747.4 740.5h0M690.3 777.2h0M812.2 689.5h0M661.6 820.3h0M778.3 676.5h0M723.3 800.7h0M849.1 647.3h0M651.5 820.9h0M763.9 752.7h0M707.1 784.1h0M828.6 636.9h0M677.7 832.6h0M791.9 692.5h0M732.2 727.2h0M902.5 618.5h0M743.7 728.8h0M681.5 832.8h0M800.0 689.6h0M655.0 810.8h0M769.6 738.7h0M711.6 770.4h0M838.8 616.7h0M641.0 881.3h0M755.1 743.4h0M697.8 776.9h0M818.3 695.8h0M672.0 819.8h0M783.2 681.8h0M727.2 777.5h0M860.9 616.8h0M693.2 810.4h0M803.5 672.3h0M665.4 861.4h0M773.5 718.4h0M718.9 755.2h0M850.7 659.0h0M648.6 832.2h0M764.1 698.1h0M704.3 820.9h0M828.0 670.3h0M677.0 800.8h0M791.5 723.2h0M734.6 755.8h0M902.3 565.3h0M744.3 740.6h0M688.2 770.6h0M800.3 718.2h0M659.6 844.7h0M772.5 699.8h0M714.8 800.7h0M843.1 644.4h0M643.0 820.4h0M756.5 747.5h0M701.0 777.1h0M821.6 635.6h0M786.1 714.8h0M728.2 752.3h0M869.0 648.0h0M638.6 861.4h0M748.3 718.8h0M695.0 810.1h0M811.4 671.5h0M665.5 800.9h0M780.5 740.5h0M725.2 777.3h0M859.2 614.6h0M653.5 862.0h0M766.4 726.2h0M708.3 758.9h0M830.5 676.5h0M680.0 800.9h0M792.6 666.8h0M739.0 777.5h0M939.9 554.1h0M625.3 845.4h0M739.2 771.0h0M682.6 798.8h0M798.8 664.2h0M655.7 846.1h0M768.5 712.1h0M712.6 745.5h0M640.7 861.3h0M754.1 722.7h0M694.9 819.8h0M817.6 674.6h0M670.4 801.4h0M781.6 725.7h0M724.2 758.6h0M866.9 590.4h0M747.6 752.8h0M688.0 785.0h0M804.0 710.8h0M662.1 832.4h0M773.6 691.1h0M715.6 791.9h0M849.2 631.6h0M646.5 810.4h0M759.9 761.8h0M705.2 792.7h0M822.8 647.3h0M674.0 846.7h0M787.8 697.6h0M730.9 732.9h0M885.8 615.7h0M629.7 845.4h0M742.3 712.5h0M803.5 699.6h0M658.2 820.3h0M772.2 745.4h0M714.4 776.3h0M843.1 626.4h0M642.7 861.4h0M760.5 727.4h0M701.1 761.4h0M819.0 703.1h0M670.0 832.4h0M788.1 685.1h0M729.7 784.3h0M864.8 623.1h0M639.4 832.3h0M751.7 758.5h0M696.3 784.8h0M813.1 642.4h0M665.5 861.9h0M778.0 717.1h0M724.3 748.8h0M852.4 658.2h0M650.8 845.0h0M763.5 699.4h0M706.0 801.8h0M828.3 650.3h0M680.2 777.4h0M797.1 728.2h0M734.6 767.0h0M923.7 550.3h0M740.9 753.3h0M684.7 784.7h0M802.8 704.0h0M656.2 831.9h0M771.5 685.3h0M713.3 811.6h0M835.2 661.5h0M641.1 831.7h0M755.0 757.6h0M699.4 791.5h0M817.3 647.9h0M669.6 831.9h0M785.8 695.2h0M727.0 730.1h0M881.2 637.3h0M636.4 861.5h0M748.2 722.2h0M692.7 820.3h0M809.9 676.9h0M662.0 800.8h0M777.2 724.6h0M719.9 760.5h0M848.6 603.5h0M763.2 737.4h0M707.3 767.4h0M829.2 685.2h0M677.8 820.6h0M791.1 676.3h0M732.6 777.3h0M901.7 579.8h0M631.3 832.6h0M746.2 776.7h0M685.5 809.6h0M803.9 669.1h0M658.2 862.5h0M772.8 717.0h0M717.7 749.6h0M842.6 665.5h0M647.6 832.5h0M758.1 699.5h0M702.2 820.6h0M818.1 674.5h0M673.6 792.3h0M789.6 721.2h0M731.4 755.1h0M886.6 572.9h0M639.1 861.1h0M751.7 726.3h0M666.1 832.6h0M781.1 694.1h0M721.4 800.2h0M855.9 634.8h0M653.1 820.7h0M765.9 745.0h0M710.0 777.1h0M833.5 629.6h0M679.9 845.8h0M795.4 704.6h0M738.2 740.5h0M919.0 591.8h0M738.9 727.9h0M682.7 820.0h0M795.8 684.2h0M655.2 809.7h0M768.2 751.9h0M711.5 784.2h0M836.7 632.5h0M641.4 881.0h0M752.8 737.5h0M698.5 767.8h0M814.2 688.7h0M668.0 810.9h0M782.9 672.1h0M723.7 800.9h0M859.9 639.7h0M635.0 846.0h0M745.4 770.6h0M691.3 800.9h0M805.3 663.0h0M659.7 845.3h0M774.1 711.3h0M716.0 743.9h0M844.7 676.8h0M647.6 846.1h0M760.8 714.9h0M703.8 809.4h0M825.2 661.9h0M673.6 791.9h0M787.2 717.3h0M732.6 752.9h0M889.5 566.6h0M741.2 758.8h0M684.8 784.7h0M801.9 710.1h0M658.2 832.7h0M772.1 692.3h0M715.3 792.6h0M837.8 643.1h0M641.9 820.4h0M699.4 800.8h0M818.1 655.4h0M672.6 844.8h0M788.0 704.6h0M730.2 740.3h0M866.8 641.1h0M634.0 862.4h0M753.0 704.3h0M693.4 831.7h0M811.9 684.1h0M665.2 810.6h0M776.7 736.1h0M719.6 766.6h0M851.5 612.9h0M651.7 862.0h0M764.5 720.0h0M708.8 747.4h0M830.4 686.8h0M677.6 820.5h0M795.2 672.4h0M734.6 777.2h0M931.5 552.0h0M626.2 832.1h0M740.9 760.5h0M683.9 791.6h0M769.0 734.0h0M712.5 763.9h0M831.0 686.5h0M641.7 861.4h0M757.0 715.0h0M698.2 820.2h0M817.1 668.8h0M674.3 793.0h0M782.3 743.0h0M726.6 776.9h0M861.3 614.2h0M633.8 880.2h0M747.6 742.7h0M694.0 776.9h0M809.1 698.8h0M663.0 820.2h0M777.9 678.9h0M719.9 801.2h0M849.8 643.9h0M649.5 820.1h0M764.0 750.2h0M705.3 784.4h0M824.6 636.5h0M679.3 820.9h0M793.6 687.3h0M736.4 721.2h0M901.5 622.2h0M745.9 729.9h0M687.0 832.8h0M801.7 690.5h0M657.0 809.8h0M771.3 737.4h0M717.9 771.1h0M844.1 616.8h0M644.4 881.6h0M755.7 744.8h0M701.7 776.9h0M823.2 691.0h0M674.0 820.4h0M788.1 677.5h0M729.0 777.3h0M874.2 604.4h0M639.1 820.2h0M750.8 770.9h0M696.4 801.0h0M810.4 660.2h0M668.6 846.5h0M779.7 707.5h0M724.2 736.7h0M854.3 650.4h0M653.3 831.7h0M830.7 671.3h0M680.9 791.3h0M795.2 721.6h0M738.7 753.2h0M942.2 522.3h0M739.5 744.5h0M685.3 771.0h0M797.3 723.3h0M653.8 844.9h0M769.9 702.3h0M711.1 800.4h0M834.6 651.9h0M639.4 820.5h0M755.0 751.3h0M698.2 783.9h0M813.1 645.4h0M669.6 846.2h0M783.9 712.9h0M724.8 747.4h0M859.2 649.1h0M746.6 716.6h0M687.7 820.1h0M806.5 673.3h0M775.5 750.5h0M720.7 784.8h0M848.9 628.8h0M646.0 880.9h0M760.8 732.7h0M704.0 764.2h0M823.7 683.4h0M677.8 810.5h0M791.9 667.0h0M733.3 792.4h0M910.7 588.5h0M630.3 845.0h0M741.2 776.8h0M685.0 809.2h0M804.7 661.4h0M658.2 845.8h0M772.0 706.2h0M713.9 745.4h0M841.1 678.1h0M644.4 861.5h0M758.5 713.7h0M702.0 809.9h0M824.4 660.5h0M673.8 792.8h0M787.2 716.2h0M729.4 750.5h0M874.7 577.7h0M638.1 880.8h0M752.7 745.1h0M693.7 784.2h0M812.6 705.6h0M666.1 832.7h0M779.9 689.6h0M722.5 791.5h0M857.0 625.8h0M649.9 809.5h0M761.8 758.4h0M708.1 792.0h0M828.5 645.7h0M678.0 832.8h0M793.1 696.8h0M737.6 727.4h0M915.8 587.3h0M739.0 715.2h0M685.3 832.5h0M798.8 696.6h0M655.7 820.6h0M771.1 740.5h0M710.6 777.2h0M836.3 627.6h0M641.2 861.6h0M756.9 723.5h0M699.1 758.1h0M817.4 706.2h0M672.4 831.8h0M785.2 688.4h0M728.2 792.1h0M879.7 610.1h0M634.7 832.1h0M747.4 764.1h0M689.9 792.1h0M811.0 644.8h0M662.9 861.8h0M777.4 722.5h0M720.5 753.1h0M851.1 662.1h0M647.0 845.0h0M763.4 701.2h0M708.3 800.3h0M828.3 652.4h0M792.9 725.7h0M735.4 761.3h0M898.5 571.6h0M747.0 742.8h0M685.5 777.4h0M801.0 703.7h0M660.2 820.8h0M776.8 677.4h0M843.8 655.1h0M646.8 832.7h0M760.9 758.9h0M701.7 792.3h0M823.1 644.4h0M672.2 845.3h0M789.6 693.3h0M732.2 727.6h0M896.6 622.1h0M641.3 861.9h0M754.1 720.6h0M695.9 820.2h0M812.3 677.2h0M666.2 800.8h0M780.1 726.3h0M726.7 755.2h0M860.5 594.8h0M654.0 861.5h0M766.1 731.5h0M708.2 764.3h0M833.6 677.4h0M680.6 810.8h0M792.8 673.0h0M735.8 769.8h0M933.2 541.1h0M626.5 832.0h0M738.0 784.5h0M680.3 819.4h0M796.2 680.5h0M653.9 861.6h0M765.7 729.8h0M710.9 755.1h0M838.3 669.2h0M637.7 846.7h0M752.8 705.5h0M812.0 686.6h0M669.6 801.0h0M781.1 733.8h0M723.1 767.1h0M859.8 606.3h0M744.7 738.4h0M688.4 771.3h0M808.4 710.6h0M663.7 832.0h0M774.6 694.7h0M718.1 792.0h0M848.6 640.7h0M646.0 821.3h0M761.3 742.9h0M702.8 777.3h0M820.6 635.1h0M675.0 845.7h0M792.3 707.4h0M731.1 745.3h0M880.6 634.5h0M742.2 725.7h0M686.4 821.9h0M801.8 679.2h0M657.3 809.8h0M770.2 755.9h0M715.6 784.0h0M837.8 631.0h0M643.0 879.8h0M757.4 730.9h0M699.8 768.1h0M821.0 682.6h0M671.5 809.3h0M785.9 670.8h0M726.3 792.1h0M865.3 627.4h0M636.6 831.9h0M749.9 761.0h0M690.5 792.7h0M811.4 649.6h0M664.4 845.2h0M778.4 699.8h0M649.6 860.6h0M764.4 712.6h0M706.9 809.9h0M826.2 664.8h0M678.2 792.0h0M795.2 715.6h0M736.0 753.9h0M906.4 553.3h0M740.5 761.5h0M684.8 791.7h0M800.3 719.7h0M655.1 832.9h0M771.2 695.1h0M712.6 792.5h0M838.3 644.4h0M640.5 820.9h0M756.7 766.5h0M699.4 800.6h0M819.0 652.8h0M669.9 846.3h0M784.2 703.7h0M726.1 737.7h0M864.1 639.4h0M632.5 845.6h0M749.6 705.3h0M691.0 832.0h0M811.4 689.1h0M663.3 810.3h0M777.0 743.4h0M720.5 776.5h0M848.4 618.0h0M649.0 861.6h0M762.0 720.6h0M707.0 753.0h0M823.4 696.8h0M676.3 819.9h0M791.3 680.3h0M731.4 784.5h0M903.2 585.8h0M629.4 845.6h0M745.7 758.3h0M687.9 792.1h0M806.0 654.4h0M659.5 861.9h0M773.3 720.9h0M713.4 758.9h0M844.5 666.3h0M645.1 845.9h0M757.1 704.6h0M701.5 801.1h0M822.2 653.1h0M728.8 770.6h0M874.2 598.3h0M638.1 879.9h0M750.4 738.3h0M693.6 776.9h0M808.8 698.8h0M665.1 820.8h0M780.4 678.3h0M722.9 801.1h0M853.2 642.3h0M653.3 820.4h0M766.1 747.6h0M709.9 777.4h0M828.3 636.3h0M677.0 832.0h0M794.2 687.1h0M739.2 717.7h0M948.5 567.7h0M738.4 732.7h0M683.1 832.1h0M797.7 686.3h0M656.0 809.9h0M768.4 734.1h0M710.4 770.3h0M835.6 619.0h0M639.5 880.4h0M754.2 747.7h0M695.4 784.4h0M812.7 706.2h0M669.7 832.1h0M781.9 689.3h0M726.3 784.0h0M865.6 617.3h0M633.1 832.4h0M745.8 778.0h0M690.5 810.0h0M805.0 669.3h0M660.2 861.6h0M774.6 715.4h0M719.1 747.5h0M847.5 658.1h0M646.4 845.6h0M762.2 694.7h0M704.4 821.5h0M823.6 673.3h0M673.4 801.0h0M787.5 721.1h0M732.3 756.0h0M906.5 557.5h0M745.3 737.7h0M686.8 770.0h0M802.7 718.8h0M658.3 845.9h0M771.4 705.8h0M713.4 810.8h0M842.1 650.5h0M646.2 820.6h0M756.8 750.2h0M701.5 783.9h0M818.8 641.0h0M671.4 845.9h0M785.4 711.2h0M730.8 747.5h0M873.4 641.9h0M637.9 861.8h0M751.2 714.8h0M692.4 809.6h0M811.4 672.5h0M665.2 791.5h0M776.5 740.8h0M724.1 771.1h0M853.8 614.9h0M652.4 861.3h0M765.6 722.4h0M706.5 755.3h0M828.6 675.2h0M677.3 801.0h0M791.2 662.9h0M738.2 784.5h0M932.5 563.1h0M626.7 845.9h0M741.5 777.2h0M683.9 809.5h0M799.4 669.3h0M654.2 860.9h0M773.1 710.3h0M714.2 750.6h0M841.7 678.1h0M639.8 861.5h0M755.0 717.7h0M696.3 820.8h0M816.0 674.0h0M669.4 792.3h0M785.7 720.1h0M724.7 758.1h0M883.1 573.6h0M635.4 880.8h0M748.8 747.9h0M693.0 777.3h0M808.2 700.6h0M664.0 820.3h0M778.4 684.9h0M720.9 783.9h0M850.5 627.3h0M647.8 810.3h0M762.2 764.8h0M706.0 800.0h0M828.2 648.9h0M677.7 845.0h0M793.0 697.8h0M735.5 735.2h0M910.8 596.8h0M743.7 716.8h0M687.9 831.6h0M802.9 697.1h0M661.4 820.7h0M771.3 744.8h0M716.3 776.9h0M841.5 624.0h0M644.6 861.4h0M759.2 724.6h0M702.8 758.7h0M823.5 694.7h0M672.9 820.2h0M788.0 683.1h0M733.3 784.1h0M878.6 608.1h0M639.6 832.4h0M752.5 755.3h0M695.3 784.2h0M816.4 639.1h0M780.0 722.9h0M724.2 752.9h0M856.6 661.1h0M653.3 845.0h0M765.4 704.7h0M711.5 800.3h0M835.9 647.9h0M678.3 785.1h0M796.2 726.8h0M739.3 758.7h0M929.4 544.3h0M739.9 752.6h0M683.1 785.2h0M796.7 708.1h0M654.9 833.1h0M768.4 689.5h0M710.4 810.3h0M835.7 660.5h0M639.7 832.6h0M754.1 758.2h0M698.2 792.8h0M813.7 647.8h0M667.2 845.5h0M782.4 696.6h0M724.8 731.7h0M854.1 670.3h0M634.6 860.7h0M747.6 729.2h0M689.4 832.6h0M805.0 685.3h0M661.2 808.8h0M773.2 735.9h0M717.9 767.3h0M848.8 608.1h0M647.0 880.4h0M761.5 736.3h0M702.1 769.7h0M824.9 689.6h0M675.0 820.6h0M790.4 673.3h0M733.1 771.4h0M878.9 600.2h0" stroke="#585858" stroke-width="6.6" stroke-linecap="round" fill="none"/>
</g>
<g clip-path="url(#pc)" stroke="#606060" stroke-width="1.9" stroke-dasharray="8 5.2" fill="none">
<path d="M57.8 1406.5L1321.2 120.5"/>
<path d="M57.8 1482.1L1321.2 196.1"/>
</g>
<g stroke="#262626" fill="none">
<path d="M133.8 236.9H1246.2" stroke-width="2"/>
<path d="M134.8 236.9V1366.9" stroke-width="2"/>
<path d="M1244.9 236.9V1366.9" stroke-width="2.5"/>
<path d="M133.8 1366.9H1246.2" stroke-width="2.8"/>
</g>
<g stroke="#262626" stroke-width="2.7">
<path d="M184.4 1366.9v8.8"/>
<path d="M134.8 1316.7h-8.6"/>
<path d="M500.3 1366.9v8.8"/>
<path d="M134.8 995.2h-8.6"/>
<path d="M816.1 1366.9v8.8"/>
<path d="M134.8 673.7h-8.6"/>
<path d="M1132.0 1366.9v8.8"/>
<path d="M134.8 352.2h-8.6"/>
</g>
<g font-size="24" fill="#4d4d4d" font-family="'Liberation Sans', sans-serif">
<text x="184.4" y="1397.4" text-anchor="middle">0</text>
<text x="120.8" y="1325.3" text-anchor="end">0</text>
<text x="500.3" y="1397.4" text-anchor="middle">5</text>
<text x="120.8" y="1003.8" text-anchor="end">5</text>
<text x="816.1" y="1397.4" text-anchor="middle">10</text>
<text x="120.8" y="682.3" text-anchor="end">10</text>
<text x="1132.0" y="1397.4" text-anchor="middle">15</text>
<text x="120.8" y="360.8" text-anchor="end">15</text>
</g>
<g font-size="26" fill="#1f1f1f" font-family="'Liberation Sans', sans-serif">
<circle cx="226" cy="324.0" r="3.0" fill="#e9292c"/>
<text x="261.3" y="333.0">up_regulated genes (765)</text>
<circle cx="226" cy="369.7" r="3.0" fill="#585858"/>
<text x="261.3" y="378.7">not differential expressed (821)</text>
<circle cx="226" cy="415.0" r="3.0" fill="#00c97a"/>
<text x="261.3" y="424.0">down_regulated genes (812)</text>
</g>
<g shape-rendering="crispEdges">
<rect x="1541.2" y="276.00" width="138.1" height="9.00" fill="#c80000"/>
<rect x="1541.2" y="284.70" width="138.1" height="9.00" fill="#aa0000"/>
<rect x="1541.2" y="293.40" width="138.1" height="9.00" fill="#c80000"/>
<rect x="1541.2" y="302.10" width="138.1" height="9.00" fill="#8c0000"/>
<rect x="1541.2" y="310.80" width="138.1" height="9.00" fill="#640000"/>
<rect x="1541.2" y="319.50" width="138.1" height="9.00" fill="#002800"/>
<rect x="1541.2" y="328.20" width="138.1" height="17.70" fill="#000000"/>
<rect x="1541.2" y="345.61" width="138.1" height="9.00" fill="#0f0000"/>
<rect x="1541.2" y="354.31" width="138.1" height="9.00" fill="#002800"/>
<rect x="1541.2" y="363.01" width="138.1" height="9.00" fill="#140000"/>
<rect x="1541.2" y="371.71" width="138.1" height="9.00" fill="#000000"/>
<rect x="1541.2" y="380.41" width="138.1" height="9.00" fill="#002800"/>
<rect x="1541.2" y="389.11" width="138.1" height="9.00" fill="#005000"/>
<rect x="1541.2" y="397.81" width="138.1" height="9.00" fill="#002d00"/>
<rect x="1541.2" y="406.51" width="138.1" height="9.00" fill="#190000"/>
<rect x="1541.2" y="415.21" width="138.1" height="9.00" fill="#140000"/>
<rect x="1541.2" y="423.91" width="138.1" height="17.70" fill="#000000"/>
<rect x="1541.2" y="441.32" width="138.1" height="9.00" fill="#5a0000"/>
<rect x="1541.2" y="450.02" width="138.1" height="9.00" fill="#000000"/>
<rect x="1541.2" y="458.72" width="138.1" height="9.00" fill="#004600"/>
<rect x="1541.2" y="467.42" width="138.1" height="9.00" fill="#002800"/>
<rect x="1541.2" y="476.12" width="138.1" height="9.00" fill="#004600"/>
<rect x="1541.2" y="484.82" width="138.1" height="9.00" fill="#001900"/>
<rect x="1541.2" y="493.52" width="138.1" height="17.70" fill="#000000"/>
<rect x="1541.2" y="510.92" width="138.1" height="9.00" fill="#ff0000"/>
<rect x="1541.2" y="519.62" width="138.1" height="9.00" fill="#fa0000"/>
<rect x="1541.2" y="528.32" width="138.1" height="9.00" fill="#f00000"/>
<rect x="1541.2" y="537.02" width="138.1" height="17.70" fill="#fa0000"/>
<rect x="1541.2" y="554.43" width="138.1" height="9.00" fill="#ff0000"/>
<rect x="1541.2" y="563.13" width="138.1" height="9.00" fill="#fa0000"/>
<rect x="1541.2" y="571.83" width="138.1" height="35.10" fill="#ff0000"/>
<rect x="1541.2" y="606.63" width="138.1" height="9.00" fill="#f50000"/>
<rect x="1541.2" y="615.33" width="138.1" height="52.50" fill="#ff0000"/>
<rect x="1541.2" y="667.54" width="138.1" height="9.00" fill="#000000"/>
<rect x="1541.2" y="676.24" width="138.1" height="9.00" fill="#6e0000"/>
<rect x="1541.2" y="684.94" width="138.1" height="9.00" fill="#c80000"/>
<rect x="1541.2" y="693.64" width="138.1" height="9.00" fill="#6e0000"/>
<rect x="1541.2" y="702.34" width="138.1" height="9.00" fill="#500000"/>
<rect x="1541.2" y="711.04" width="138.1" height="9.00" fill="#3c0000"/>
<rect x="1541.2" y="719.74" width="138.1" height="9.00" fill="#460000"/>
<rect x="1541.2" y="728.44" width="138.1" height="9.00" fill="#370000"/>
<rect x="1541.2" y="737.14" width="138.1" height="9.00" fill="#3c0000"/>
<rect x="1541.2" y="745.84" width="138.1" height="9.00" fill="#370000"/>
<rect x="1541.2" y="754.54" width="138.1" height="9.00" fill="#190000"/>
<rect x="1541.2" y="763.25" width="138.1" height="9.00" fill="#6e0000"/>
<rect x="1541.2" y="771.95" width="138.1" height="9.00" fill="#730000"/>
<rect x="1541.2" y="780.65" width="138.1" height="9.00" fill="#640000"/>
<rect x="1541.2" y="789.35" width="138.1" height="9.00" fill="#6e0000"/>
<rect x="1541.2" y="798.05" width="138.1" height="17.70" fill="#c80000"/>
<rect x="1541.2" y="815.45" width="138.1" height="9.00" fill="#aa0000"/>
<rect x="1541.2" y="824.15" width="138.1" height="9.00" fill="#820000"/>
<rect x="1541.2" y="832.85" width="138.1" height="9.00" fill="#6e0000"/>
<rect x="1541.2" y="841.55" width="138.1" height="9.00" fill="#eb0000"/>
<rect x="1541.2" y="850.25" width="138.1" height="9.00" fill="#c80000"/>
<rect x="1541.2" y="858.95" width="138.1" height="26.40" fill="#f00000"/>
<rect x="1541.2" y="885.06" width="138.1" height="9.00" fill="#a50000"/>
<rect x="1541.2" y="893.76" width="138.1" height="9.00" fill="#c80000"/>
<rect x="1541.2" y="902.46" width="138.1" height="17.70" fill="#d20000"/>
<rect x="1541.2" y="919.86" width="138.1" height="26.40" fill="#005000"/>
<rect x="1541.2" y="945.96" width="138.1" height="9.00" fill="#001900"/>
<rect x="1541.2" y="954.66" width="138.1" height="9.00" fill="#005a00"/>
<rect x="1541.2" y="963.36" width="138.1" height="9.00" fill="#007800"/>
<rect x="1541.2" y="972.06" width="138.1" height="9.00" fill="#006900"/>
<rect x="1541.2" y="980.77" width="138.1" height="9.00" fill="#000000"/>
<rect x="1541.2" y="989.47" width="138.1" height="9.00" fill="#008c00"/>
<rect x="1541.2" y="998.17" width="138.1" height="9.00" fill="#006400"/>
<rect x="1541.2" y="1006.87" width="138.1" height="17.70" fill="#008200"/>
<rect x="1541.2" y="1024.27" width="138.1" height="9.00" fill="#005a00"/>
<rect x="1541.2" y="1032.97" width="138.1" height="9.00" fill="#007d00"/>
<rect x="1541.2" y="1041.67" width="138.1" height="9.00" fill="#006400"/>
<rect x="1541.2" y="1050.37" width="138.1" height="9.00" fill="#000000"/>
<rect x="1541.2" y="1059.07" width="138.1" height="9.00" fill="#005500"/>
<rect x="1541.2" y="1067.77" width="138.1" height="9.00" fill="#004b00"/>
<rect x="1541.2" y="1076.47" width="138.1" height="17.70" fill="#004600"/>
<rect x="1541.2" y="1093.88" width="138.1" height="9.00" fill="#006900"/>
<rect x="1541.2" y="1102.58" width="138.1" height="9.00" fill="#003c00"/>
<rect x="1541.2" y="1111.28" width="138.1" height="9.00" fill="#006e00"/>
<rect x="1541.2" y="1119.98" width="138.1" height="9.00" fill="#004b00"/>
<rect x="1541.2" y="1128.68" width="138.1" height="9.00" fill="#008200"/>
<rect x="1541.2" y="1137.38" width="138.1" height="9.00" fill="#003c00"/>
<rect x="1541.2" y="1146.08" width="138.1" height="9.00" fill="#005500"/>
<rect x="1541.2" y="1154.78" width="138.1" height="9.00" fill="#002d00"/>
<rect x="1541.2" y="1163.48" width="138.1" height="9.00" fill="#005500"/>
<rect x="1541.2" y="1172.18" width="138.1" height="9.00" fill="#003c00"/>
<rect x="1541.2" y="1180.88" width="138.1" height="9.00" fill="#006400"/>
<rect x="1541.2" y="1189.58" width="138.1" height="26.40" fill="#005000"/>
<rect x="1541.2" y="1215.69" width="138.1" height="9.00" fill="#000000"/>
<rect x="1541.2" y="1224.39" width="138.1" height="9.00" fill="#007800"/>
<rect x="1541.2" y="1233.09" width="138.1" height="9.00" fill="#004600"/>
<rect x="1541.2" y="1241.79" width="138.1" height="9.00" fill="#000000"/>
<rect x="1541.2" y="1250.49" width="138.1" height="9.00" fill="#007800"/>
<rect x="1541.2" y="1259.19" width="138.1" height="17.70" fill="#005500"/>
<rect x="1541.2" y="1276.59" width="138.1" height="9.00" fill="#003200"/>
<rect x="1541.2" y="1285.29" width="138.1" height="9.00" fill="#005a00"/>
<rect x="1541.2" y="1293.99" width="138.1" height="9.00" fill="#003a00"/>
<rect x="1541.2" y="1302.70" width="138.1" height="9.00" fill="#008200"/>
<rect x="1541.2" y="1311.40" width="138.1" height="9.00" fill="#008e00"/>
<rect x="1541.2" y="1320.10" width="138.1" height="9.00" fill="#009600"/>
<rect x="1541.2" y="1328.80" width="138.1" height="9.00" fill="#008200"/>
<rect x="1541.2" y="1337.50" width="138.1" height="9.00" fill="#006e00"/>
<rect x="1541.2" y="1346.20" width="138.1" height="9.00" fill="#008200"/>
<rect x="1679.0" y="276.00" width="138.3" height="9.00" fill="#001e00"/>
<rect x="1679.0" y="284.70" width="138.3" height="9.00" fill="#0a0000"/>
<rect x="1679.0" y="293.40" width="138.3" height="9.00" fill="#190000"/>
<rect x="1679.0" y="302.10" width="138.3" height="9.00" fill="#005000"/>
<rect x="1679.0" y="310.80" width="138.3" height="9.00" fill="#000f00"/>
<rect x="1679.0" y="319.50" width="138.3" height="9.00" fill="#3c0000"/>
<rect x="1679.0" y="328.20" width="138.3" height="9.00" fill="#280000"/>
<rect x="1679.0" y="336.91" width="138.3" height="9.00" fill="#000000"/>
<rect x="1679.0" y="345.61" width="138.3" height="9.00" fill="#050000"/>
<rect x="1679.0" y="354.31" width="138.3" height="9.00" fill="#003200"/>
<rect x="1679.0" y="363.01" width="138.3" height="9.00" fill="#004b00"/>
<rect x="1679.0" y="371.71" width="138.3" height="9.00" fill="#002d00"/>
<rect x="1679.0" y="380.41" width="138.3" height="61.21" fill="#ff0000"/>
<rect x="1679.0" y="441.32" width="138.3" height="9.00" fill="#6e0000"/>
<rect x="1679.0" y="450.02" width="138.3" height="9.00" fill="#e60000"/>
<rect x="1679.0" y="458.72" width="138.3" height="9.00" fill="#ff0000"/>
<rect x="1679.0" y="467.42" width="138.3" height="9.00" fill="#fa0000"/>
<rect x="1679.0" y="476.12" width="138.3" height="9.00" fill="#aa0000"/>
<rect x="1679.0" y="484.82" width="138.3" height="9.00" fill="#d70000"/>
<rect x="1679.0" y="493.52" width="138.3" height="9.00" fill="#d20000"/>
<rect x="1679.0" y="502.22" width="138.3" height="9.00" fill="#b40000"/>
<rect x="1679.0" y="510.92" width="138.3" height="9.00" fill="#500000"/>
<rect x="1679.0" y="519.62" width="138.3" height="9.00" fill="#7d0000"/>
<rect x="1679.0" y="528.32" width="138.3" height="9.00" fill="#960000"/>
<rect x="1679.0" y="537.02" width="138.3" height="17.70" fill="#7d0000"/>
<rect x="1679.0" y="554.43" width="138.3" height="9.00" fill="#460000"/>
<rect x="1679.0" y="563.13" width="138.3" height="9.00" fill="#5f0000"/>
<rect x="1679.0" y="571.83" width="138.3" height="9.00" fill="#460000"/>
<rect x="1679.0" y="580.53" width="138.3" height="9.00" fill="#0f0000"/>
<rect x="1679.0" y="589.23" width="138.3" height="9.00" fill="#001400"/>
<rect x="1679.0" y="597.93" width="138.3" height="9.00" fill="#000500"/>
<rect x="1679.0" y="606.63" width="138.3" height="9.00" fill="#002800"/>
<rect x="1679.0" y="615.33" width="138.3" height="17.70" fill="#000000"/>
<rect x="1679.0" y="632.73" width="138.3" height="9.00" fill="#003200"/>
<rect x="1679.0" y="641.43" width="138.3" height="26.40" fill="#004b00"/>
<rect x="1679.0" y="667.54" width="138.3" height="9.00" fill="#f00000"/>
<rect x="1679.0" y="676.24" width="138.3" height="9.00" fill="#a50000"/>
<rect x="1679.0" y="684.94" width="138.3" height="9.00" fill="#960000"/>
<rect x="1679.0" y="693.64" width="138.3" height="9.00" fill="#fa0000"/>
<rect x="1679.0" y="702.34" width="138.3" height="9.00" fill="#ff0000"/>
<rect x="1679.0" y="711.04" width="138.3" height="9.00" fill="#fa0000"/>
<rect x="1679.0" y="719.74" width="138.3" height="9.00" fill="#960000"/>
<rect x="1679.0" y="728.44" width="138.3" height="17.70" fill="#d20000"/>
<rect x="1679.0" y="745.84" width="138.3" height="9.00" fill="#a00000"/>
<rect x="1679.0" y="754.54" width="138.3" height="9.00" fill="#820000"/>
<rect x="1679.0" y="763.25" width="138.3" height="9.00" fill="#7d0000"/>
<rect x="1679.0" y="771.95" width="138.3" height="9.00" fill="#640000"/>
<rect x="1679.0" y="780.65" width="138.3" height="9.00" fill="#5f0000"/>
<rect x="1679.0" y="789.35" width="138.3" height="9.00" fill="#780000"/>
<rect x="1679.0" y="798.05" width="138.3" height="17.70" fill="#640000"/>
<rect x="1679.0" y="815.45" width="138.3" height="9.00" fill="#910000"/>
<rect x="1679.0" y="824.15" width="138.3" height="17.70" fill="#b90000"/>
<rect x="1679.0" y="841.55" width="138.3" height="9.00" fill="#410000"/>
<rect x="1679.0" y="850.25" width="138.3" height="9.00" fill="#5a0000"/>
<rect x="1679.0" y="858.95" width="138.3" height="9.00" fill="#320000"/>
<rect x="1679.0" y="867.65" width="138.3" height="9.00" fill="#0f0000"/>
<rect x="1679.0" y="876.36" width="138.3" height="9.00" fill="#050000"/>
<rect x="1679.0" y="885.06" width="138.3" height="9.00" fill="#a50000"/>
<rect x="1679.0" y="893.76" width="138.3" height="9.00" fill="#8c0000"/>
<rect x="1679.0" y="902.46" width="138.3" height="9.00" fill="#780000"/>
<rect x="1679.0" y="911.16" width="138.3" height="9.00" fill="#5a0000"/>
<rect x="1679.0" y="919.86" width="138.3" height="17.70" fill="#005000"/>
<rect x="1679.0" y="937.26" width="138.3" height="9.00" fill="#005500"/>
<rect x="1679.0" y="945.96" width="138.3" height="9.00" fill="#006400"/>
<rect x="1679.0" y="954.66" width="138.3" height="17.70" fill="#007300"/>
<rect x="1679.0" y="972.06" width="138.3" height="9.00" fill="#007d00"/>
<rect x="1679.0" y="980.77" width="138.3" height="9.00" fill="#00af00"/>
<rect x="1679.0" y="989.47" width="138.3" height="9.00" fill="#001400"/>
<rect x="1679.0" y="998.17" width="138.3" height="9.00" fill="#005a00"/>
<rect x="1679.0" y="1006.87" width="138.3" height="9.00" fill="#004100"/>
<rect x="1679.0" y="1015.57" width="138.3" height="9.00" fill="#005a00"/>
<rect x="1679.0" y="1024.27" width="138.3" height="9.00" fill="#005500"/>
<rect x="1679.0" y="1032.97" width="138.3" height="9.00" fill="#002800"/>
<rect x="1679.0" y="1041.67" width="138.3" height="9.00" fill="#005500"/>
<rect x="1679.0" y="1050.37" width="138.3" height="9.00" fill="#007300"/>
<rect x="1679.0" y="1059.07" width="138.3" height="9.00" fill="#005f00"/>
<rect x="1679.0" y="1067.77" width="138.3" height="9.00" fill="#005500"/>
<rect x="1679.0" y="1076.47" width="138.3" height="9.00" fill="#006e00"/>
<rect x="1679.0" y="1085.18" width="138.3" height="17.70" fill="#000000"/>
<rect x="1679.0" y="1102.58" width="138.3" height="9.00" fill="#002300"/>
<rect x="1679.0" y="1111.28" width="138.3" height="9.00" fill="#000f00"/>
<rect x="1679.0" y="1119.98" width="138.3" height="9.00" fill="#003c00"/>
<rect x="1679.0" y="1128.68" width="138.3" height="9.00" fill="#003200"/>
<rect x="1679.0" y="1137.38" width="138.3" height="9.00" fill="#005f00"/>
<rect x="1679.0" y="1146.08" width="138.3" height="17.70" fill="#005500"/>
<rect x="1679.0" y="1163.48" width="138.3" height="17.70" fill="#006400"/>
<rect x="1679.0" y="1180.88" width="138.3" height="9.00" fill="#000000"/>
<rect x="1679.0" y="1189.58" width="138.3" height="9.00" fill="#003200"/>
<rect x="1679.0" y="1198.29" width="138.3" height="9.00" fill="#000f00"/>
<rect x="1679.0" y="1206.99" width="138.3" height="9.00" fill="#004b00"/>
<rect x="1679.0" y="1215.69" width="138.3" height="9.00" fill="#005f00"/>
<rect x="1679.0" y="1224.39" width="138.3" height="9.00" fill="#004b00"/>
<rect x="1679.0" y="1233.09" width="138.3" height="9.00" fill="#006e00"/>
<rect x="1679.0" y="1241.79" width="138.3" height="9.00" fill="#00be00"/>
<rect x="1679.0" y="1250.49" width="138.3" height="9.00" fill="#003200"/>
<rect x="1679.0" y="1259.19" width="138.3" height="17.70" fill="#005a00"/>
<rect x="1679.0" y="1276.59" width="138.3" height="9.00" fill="#007800"/>
<rect x="1679.0" y="1285.29" width="138.3" height="9.00" fill="#006e00"/>
<rect x="1679.0" y="1293.99" width="138.3" height="9.00" fill="#009600"/>
<rect x="1679.0" y="1302.70" width="138.3" height="9.00" fill="#008200"/>
<rect x="1679.0" y="1311.40" width="138.3" height="9.00" fill="#005f00"/>
<rect x="1679.0" y="1320.10" width="138.3" height="9.00" fill="#008c00"/>
<rect x="1679.0" y="1328.80" width="138.3" height="17.70" fill="#00a000"/>
<rect x="1679.0" y="1346.20" width="138.3" height="9.00" fill="#009600"/>
<rect x="1817.0" y="276.00" width="138.1" height="9.00" fill="#aa0000"/>
<rect x="1817.0" y="284.70" width="138.1" height="9.00" fill="#c80000"/>
<rect x="1817.0" y="293.40" width="138.1" height="9.00" fill="#960000"/>
<rect x="1817.0" y="302.10" width="138.1" height="9.00" fill="#eb0000"/>
<rect x="1817.0" y="310.80" width="138.1" height="9.00" fill="#e10000"/>
<rect x="1817.0" y="319.50" width="138.1" height="61.21" fill="#ff0000"/>
<rect x="1817.0" y="380.41" width="138.1" height="9.00" fill="#001400"/>
<rect x="1817.0" y="389.11" width="138.1" height="17.70" fill="#0f0000"/>
<rect x="1817.0" y="406.51" width="138.1" height="9.00" fill="#005500"/>
<rect x="1817.0" y="415.21" width="138.1" height="9.00" fill="#003200"/>
<rect x="1817.0" y="423.91" width="138.1" height="17.70" fill="#000000"/>
<rect x="1817.0" y="441.32" width="138.1" height="9.00" fill="#640000"/>
<rect x="1817.0" y="450.02" width="138.1" height="17.70" fill="#460000"/>
<rect x="1817.0" y="467.42" width="138.1" height="9.00" fill="#820000"/>
<rect x="1817.0" y="476.12" width="138.1" height="9.00" fill="#c80000"/>
<rect x="1817.0" y="484.82" width="138.1" height="17.70" fill="#960000"/>
<rect x="1817.0" y="502.22" width="138.1" height="9.00" fill="#c80000"/>
<rect x="1817.0" y="510.92" width="138.1" height="9.00" fill="#005000"/>
<rect x="1817.0" y="519.62" width="138.1" height="9.00" fill="#002d00"/>
<rect x="1817.0" y="528.32" width="138.1" height="26.40" fill="#005a00"/>
<rect x="1817.0" y="554.43" width="138.1" height="9.00" fill="#002800"/>
<rect x="1817.0" y="563.13" width="138.1" height="17.70" fill="#000000"/>
<rect x="1817.0" y="580.53" width="138.1" height="9.00" fill="#000f00"/>
<rect x="1817.0" y="589.23" width="138.1" height="9.00" fill="#0f0000"/>
<rect x="1817.0" y="597.93" width="138.1" height="9.00" fill="#001900"/>
<rect x="1817.0" y="606.63" width="138.1" height="9.00" fill="#780000"/>
<rect x="1817.0" y="615.33" width="138.1" height="9.00" fill="#2d0000"/>
<rect x="1817.0" y="624.03" width="138.1" height="9.00" fill="#320000"/>
<rect x="1817.0" y="632.73" width="138.1" height="9.00" fill="#3c0000"/>
<rect x="1817.0" y="641.43" width="138.1" height="9.00" fill="#320000"/>
<rect x="1817.0" y="650.13" width="138.1" height="17.70" fill="#460000"/>
<rect x="1817.0" y="667.54" width="138.1" height="9.00" fill="#3c0000"/>
<rect x="1817.0" y="676.24" width="138.1" height="9.00" fill="#640000"/>
<rect x="1817.0" y="684.94" width="138.1" height="9.00" fill="#000a00"/>
<rect x="1817.0" y="693.64" width="138.1" height="17.70" fill="#000000"/>
<rect x="1817.0" y="711.04" width="138.1" height="9.00" fill="#001900"/>
<rect x="1817.0" y="719.74" width="138.1" height="9.00" fill="#8c0000"/>
<rect x="1817.0" y="728.44" width="138.1" height="17.70" fill="#5f0000"/>
<rect x="1817.0" y="745.84" width="138.1" height="9.00" fill="#b40000"/>
<rect x="1817.0" y="754.54" width="138.1" height="9.00" fill="#cd0000"/>
<rect x="1817.0" y="763.25" width="138.1" height="9.00" fill="#af0000"/>
<rect x="1817.0" y="771.95" width="138.1" height="9.00" fill="#be0000"/>
<rect x="1817.0" y="780.65" width="138.1" height="9.00" fill="#cd0000"/>
<rect x="1817.0" y="789.35" width="138.1" height="9.00" fill="#c80000"/>
<rect x="1817.0" y="798.05" width="138.1" height="17.70" fill="#550000"/>
<rect x="1817.0" y="815.45" width="138.1" height="9.00" fill="#5a0000"/>
<rect x="1817.0" y="824.15" width="138.1" height="9.00" fill="#640000"/>
<rect x="1817.0" y="832.85" width="138.1" height="9.00" fill="#820000"/>
<rect x="1817.0" y="841.55" width="138.1" height="9.00" fill="#3c0000"/>
<rect x="1817.0" y="850.25" width="138.1" height="17.70" fill="#500000"/>
<rect x="1817.0" y="867.65" width="138.1" height="9.00" fill="#6e0000"/>
<rect x="1817.0" y="876.36" width="138.1" height="9.00" fill="#550000"/>
<rect x="1817.0" y="885.06" width="138.1" height="9.00" fill="#1e0000"/>
<rect x="1817.0" y="893.76" width="138.1" height="9.00" fill="#050000"/>
<rect x="1817.0" y="902.46" width="138.1" height="9.00" fill="#280000"/>
<rect x="1817.0" y="911.16" width="138.1" height="9.00" fill="#3c0000"/>
<rect x="1817.0" y="919.86" width="138.1" height="17.70" fill="#005000"/>
<rect x="1817.0" y="937.26" width="138.1" height="9.00" fill="#005a00"/>
<rect x="1817.0" y="945.96" width="138.1" height="9.00" fill="#00aa00"/>
<rect x="1817.0" y="954.66" width="138.1" height="9.00" fill="#008c00"/>
<rect x="1817.0" y="963.36" width="138.1" height="9.00" fill="#006e00"/>
<rect x="1817.0" y="972.06" width="138.1" height="17.70" fill="#004600"/>
<rect x="1817.0" y="989.47" width="138.1" height="9.00" fill="#008700"/>
<rect x="1817.0" y="998.17" width="138.1" height="9.00" fill="#006900"/>
<rect x="1817.0" y="1006.87" width="138.1" height="9.00" fill="#007d00"/>
<rect x="1817.0" y="1015.57" width="138.1" height="9.00" fill="#006400"/>
<rect x="1817.0" y="1024.27" width="138.1" height="9.00" fill="#005a00"/>
<rect x="1817.0" y="1032.97" width="138.1" height="9.00" fill="#002d00"/>
<rect x="1817.0" y="1041.67" width="138.1" height="9.00" fill="#000f00"/>
<rect x="1817.0" y="1050.37" width="138.1" height="9.00" fill="#007300"/>
<rect x="1817.0" y="1059.07" width="138.1" height="9.00" fill="#005a00"/>
<rect x="1817.0" y="1067.77" width="138.1" height="17.70" fill="#004b00"/>
<rect x="1817.0" y="1085.18" width="138.1" height="9.00" fill="#008200"/>
<rect x="1817.0" y="1093.88" width="138.1" height="9.00" fill="#006400"/>
<rect x="1817.0" y="1102.58" width="138.1" height="17.70" fill="#006900"/>
<rect x="1817.0" y="1119.98" width="138.1" height="9.00" fill="#003700"/>
<rect x="1817.0" y="1128.68" width="138.1" height="26.40" fill="#005500"/>
<rect x="1817.0" y="1154.78" width="138.1" height="17.70" fill="#005f00"/>
<rect x="1817.0" y="1172.18" width="138.1" height="9.00" fill="#005a00"/>
<rect x="1817.0" y="1180.88" width="138.1" height="9.00" fill="#007d00"/>
<rect x="1817.0" y="1189.58" width="138.1" height="9.00" fill="#001e00"/>
<rect x="1817.0" y="1198.29" width="138.1" height="17.70" fill="#004b00"/>
<rect x="1817.0" y="1215.69" width="138.1" height="9.00" fill="#007300"/>
<rect x="1817.0" y="1224.39" width="138.1" height="9.00" fill="#140000"/>
<rect x="1817.0" y="1233.09" width="138.1" height="9.00" fill="#001400"/>
<rect x="1817.0" y="1241.79" width="138.1" height="9.00" fill="#004100"/>
<rect x="1817.0" y="1250.49" width="138.1" height="9.00" fill="#003c00"/>
<rect x="1817.0" y="1259.19" width="138.1" height="9.00" fill="#005500"/>
<rect x="1817.0" y="1267.89" width="138.1" height="9.00" fill="#005a00"/>
<rect x="1817.0" y="1276.59" width="138.1" height="9.00" fill="#007800"/>
<rect x="1817.0" y="1285.29" width="138.1" height="9.00" fill="#005f00"/>
<rect x="1817.0" y="1293.99" width="138.1" height="9.00" fill="#003000"/>
<rect x="1817.0" y="1302.70" width="138.1" height="9.00" fill="#008200"/>
<rect x="1817.0" y="1311.40" width="138.1" height="9.00" fill="#008c00"/>
<rect x="1817.0" y="1320.10" width="138.1" height="17.70" fill="#000000"/>
<rect x="1817.0" y="1337.50" width="138.1" height="9.00" fill="#001400"/>
<rect x="1817.0" y="1346.20" width="138.1" height="9.00" fill="#002800"/>
<rect x="1954.8" y="276.00" width="139.1" height="26.40" fill="#006e00"/>
<rect x="1954.8" y="302.10" width="139.1" height="9.00" fill="#005a00"/>
<rect x="1954.8" y="310.80" width="139.1" height="9.00" fill="#009600"/>
<rect x="1954.8" y="319.50" width="139.1" height="35.10" fill="#005000"/>
<rect x="1954.8" y="354.31" width="139.1" height="9.00" fill="#005a00"/>
<rect x="1954.8" y="363.01" width="139.1" height="9.00" fill="#005000"/>
<rect x="1954.8" y="371.71" width="139.1" height="9.00" fill="#003200"/>
<rect x="1954.8" y="380.41" width="139.1" height="26.40" fill="#005000"/>
<rect x="1954.8" y="406.51" width="139.1" height="26.40" fill="#005500"/>
<rect x="1954.8" y="432.61" width="139.1" height="9.00" fill="#005f00"/>
<rect x="1954.8" y="441.32" width="139.1" height="9.00" fill="#00dc00"/>
<rect x="1954.8" y="450.02" width="139.1" height="9.00" fill="#00c800"/>
<rect x="1954.8" y="458.72" width="139.1" height="9.00" fill="#006e00"/>
<rect x="1954.8" y="467.42" width="139.1" height="9.00" fill="#005f00"/>
<rect x="1954.8" y="476.12" width="139.1" height="17.70" fill="#007d00"/>
<rect x="1954.8" y="493.52" width="139.1" height="9.00" fill="#005f00"/>
<rect x="1954.8" y="502.22" width="139.1" height="9.00" fill="#007d00"/>
<rect x="1954.8" y="510.92" width="139.1" height="9.00" fill="#005000"/>
<rect x="1954.8" y="519.62" width="139.1" height="35.10" fill="#005500"/>
<rect x="1954.8" y="554.43" width="139.1" height="9.00" fill="#009600"/>
<rect x="1954.8" y="563.13" width="139.1" height="9.00" fill="#007300"/>
<rect x="1954.8" y="571.83" width="139.1" height="9.00" fill="#006400"/>
<rect x="1954.8" y="580.53" width="139.1" height="9.00" fill="#00aa00"/>
<rect x="1954.8" y="589.23" width="139.1" height="9.00" fill="#008c00"/>
<rect x="1954.8" y="597.93" width="139.1" height="9.00" fill="#008200"/>
<rect x="1954.8" y="606.63" width="139.1" height="9.00" fill="#009600"/>
<rect x="1954.8" y="615.33" width="139.1" height="9.00" fill="#006900"/>
<rect x="1954.8" y="624.03" width="139.1" height="9.00" fill="#005000"/>
<rect x="1954.8" y="632.73" width="139.1" height="9.00" fill="#005f00"/>
<rect x="1954.8" y="641.43" width="139.1" height="26.40" fill="#005000"/>
<rect x="1954.8" y="667.54" width="139.1" height="9.00" fill="#000f00"/>
<rect x="1954.8" y="676.24" width="139.1" height="9.00" fill="#001900"/>
<rect x="1954.8" y="684.94" width="139.1" height="9.00" fill="#003200"/>
<rect x="1954.8" y="693.64" width="139.1" height="9.00" fill="#006e00"/>
<rect x="1954.8" y="702.34" width="139.1" height="9.00" fill="#006400"/>
<rect x="1954.8" y="711.04" width="139.1" height="9.00" fill="#006e00"/>
<rect x="1954.8" y="719.74" width="139.1" height="9.00" fill="#00b900"/>
<rect x="1954.8" y="728.44" width="139.1" height="9.00" fill="#00af00"/>
<rect x="1954.8" y="737.14" width="139.1" height="9.00" fill="#009600"/>
<rect x="1954.8" y="745.84" width="139.1" height="9.00" fill="#007800"/>
<rect x="1954.8" y="754.54" width="139.1" height="43.80" fill="#008700"/>
<rect x="1954.8" y="798.05" width="139.1" height="9.00" fill="#004600"/>
<rect x="1954.8" y="806.75" width="139.1" height="9.00" fill="#006400"/>
<rect x="1954.8" y="815.45" width="139.1" height="9.00" fill="#009600"/>
<rect x="1954.8" y="824.15" width="139.1" height="9.00" fill="#006e00"/>
<rect x="1954.8" y="832.85" width="139.1" height="17.70" fill="#008c00"/>
<rect x="1954.8" y="850.25" width="139.1" height="9.00" fill="#009600"/>
<rect x="1954.8" y="858.95" width="139.1" height="9.00" fill="#009100"/>
<rect x="1954.8" y="867.65" width="139.1" height="17.70" fill="#009600"/>
<rect x="1954.8" y="885.06" width="139.1" height="9.00" fill="#00a500"/>
<rect x="1954.8" y="893.76" width="139.1" height="9.00" fill="#00be00"/>
<rect x="1954.8" y="902.46" width="139.1" height="9.00" fill="#00b900"/>
<rect x="1954.8" y="911.16" width="139.1" height="9.00" fill="#00d200"/>
<rect x="1954.8" y="919.86" width="139.1" height="9.00" fill="#ff0000"/>
<rect x="1954.8" y="928.56" width="139.1" height="9.00" fill="#d20000"/>
<rect x="1954.8" y="937.26" width="139.1" height="9.00" fill="#820000"/>
<rect x="1954.8" y="945.96" width="139.1" height="9.00" fill="#460000"/>
<rect x="1954.8" y="954.66" width="139.1" height="9.00" fill="#8c0000"/>
<rect x="1954.8" y="963.36" width="139.1" height="9.00" fill="#b90000"/>
<rect x="1954.8" y="972.06" width="139.1" height="9.00" fill="#af0000"/>
<rect x="1954.8" y="980.77" width="139.1" height="9.00" fill="#b40000"/>
<rect x="1954.8" y="989.47" width="139.1" height="9.00" fill="#c80000"/>
<rect x="1954.8" y="998.17" width="139.1" height="9.00" fill="#ff0000"/>
<rect x="1954.8" y="1006.87" width="139.1" height="9.00" fill="#eb0000"/>
<rect x="1954.8" y="1015.57" width="139.1" height="9.00" fill="#d20000"/>
<rect x="1954.8" y="1024.27" width="139.1" height="9.00" fill="#f00000"/>
<rect x="1954.8" y="1032.97" width="139.1" height="130.81" fill="#ff0000"/>
<rect x="1954.8" y="1163.48" width="139.1" height="9.00" fill="#2d0000"/>
<rect x="1954.8" y="1172.18" width="139.1" height="9.00" fill="#370000"/>
<rect x="1954.8" y="1180.88" width="139.1" height="9.00" fill="#001e00"/>
<rect x="1954.8" y="1189.58" width="139.1" height="9.00" fill="#005500"/>
<rect x="1954.8" y="1198.29" width="139.1" height="9.00" fill="#006400"/>
<rect x="1954.8" y="1206.99" width="139.1" height="9.00" fill="#004b00"/>
<rect x="1954.8" y="1215.69" width="139.1" height="9.00" fill="#001e00"/>
<rect x="1954.8" y="1224.39" width="139.1" height="9.00" fill="#005a00"/>
<rect x="1954.8" y="1233.09" width="139.1" height="9.00" fill="#006400"/>
<rect x="1954.8" y="1241.79" width="139.1" height="9.00" fill="#000a00"/>
<rect x="1954.8" y="1250.49" width="139.1" height="9.00" fill="#006400"/>
<rect x="1954.8" y="1259.19" width="139.1" height="17.70" fill="#005500"/>
<rect x="1954.8" y="1276.59" width="139.1" height="9.00" fill="#000f00"/>
<rect x="1954.8" y="1285.29" width="139.1" height="17.70" fill="#005800"/>
<rect x="1954.8" y="1302.70" width="139.1" height="9.00" fill="#730000"/>
<rect x="1954.8" y="1311.40" width="139.1" height="9.00" fill="#960000"/>
<rect x="1954.8" y="1320.10" width="139.1" height="9.00" fill="#000000"/>
<rect x="1954.8" y="1328.80" width="139.1" height="9.00" fill="#190000"/>
<rect x="1954.8" y="1337.50" width="139.1" height="9.00" fill="#000000"/>
<rect x="1954.8" y="1346.20" width="139.1" height="9.00" fill="#140000"/>
<rect x="2093.6" y="276.00" width="139.3" height="26.40" fill="#006e00"/>
<rect x="2093.6" y="302.10" width="139.3" height="9.00" fill="#005a00"/>
<rect x="2093.6" y="310.80" width="139.3" height="9.00" fill="#005500"/>
<rect x="2093.6" y="319.50" width="139.3" height="9.00" fill="#000000"/>
<rect x="2093.6" y="328.20" width="139.3" height="26.40" fill="#005500"/>
<rect x="2093.6" y="354.31" width="139.3" height="9.00" fill="#005a00"/>
<rect x="2093.6" y="363.01" width="139.3" height="9.00" fill="#005500"/>
<rect x="2093.6" y="371.71" width="139.3" height="9.00" fill="#005f00"/>
<rect x="2093.6" y="380.41" width="139.3" height="35.10" fill="#005000"/>
<rect x="2093.6" y="415.21" width="139.3" height="9.00" fill="#003200"/>
<rect x="2093.6" y="423.91" width="139.3" height="9.00" fill="#005500"/>
<rect x="2093.6" y="432.61" width="139.3" height="9.00" fill="#005f00"/>
<rect x="2093.6" y="441.32" width="139.3" height="9.00" fill="#005a00"/>
<rect x="2093.6" y="450.02" width="139.3" height="9.00" fill="#006400"/>
<rect x="2093.6" y="458.72" width="139.3" height="9.00" fill="#003200"/>
<rect x="2093.6" y="467.42" width="139.3" height="9.00" fill="#006400"/>
<rect x="2093.6" y="476.12" width="139.3" height="9.00" fill="#006e00"/>
<rect x="2093.6" y="484.82" width="139.3" height="9.00" fill="#008200"/>
<rect x="2093.6" y="493.52" width="139.3" height="9.00" fill="#008700"/>
<rect x="2093.6" y="502.22" width="139.3" height="9.00" fill="#006900"/>
<rect x="2093.6" y="510.92" width="139.3" height="9.00" fill="#005000"/>
<rect x="2093.6" y="519.62" width="139.3" height="9.00" fill="#005a00"/>
<rect x="2093.6" y="528.32" width="139.3" height="26.40" fill="#005500"/>
<rect x="2093.6" y="554.43" width="139.3" height="9.00" fill="#000000"/>
<rect x="2093.6" y="563.13" width="139.3" height="9.00" fill="#006900"/>
<rect x="2093.6" y="571.83" width="139.3" height="9.00" fill="#005f00"/>
<rect x="2093.6" y="580.53" width="139.3" height="9.00" fill="#003c00"/>
<rect x="2093.6" y="589.23" width="139.3" height="9.00" fill="#003700"/>
<rect x="2093.6" y="597.93" width="139.3" height="9.00" fill="#003c00"/>
<rect x="2093.6" y="606.63" width="139.3" height="9.00" fill="#000a00"/>
<rect x="2093.6" y="615.33" width="139.3" height="17.70" fill="#006400"/>
<rect x="2093.6" y="632.73" width="139.3" height="9.00" fill="#004600"/>
<rect x="2093.6" y="641.43" width="139.3" height="26.40" fill="#005500"/>
<rect x="2093.6" y="667.54" width="139.3" height="9.00" fill="#007d00"/>
<rect x="2093.6" y="676.24" width="139.3" height="9.00" fill="#006400"/>
<rect x="2093.6" y="684.94" width="139.3" height="9.00" fill="#00a000"/>
<rect x="2093.6" y="693.64" width="139.3" height="9.00" fill="#004600"/>
<rect x="2093.6" y="702.34" width="139.3" height="9.00" fill="#006900"/>
<rect x="2093.6" y="711.04" width="139.3" height="9.00" fill="#006400"/>
<rect x="2093.6" y="719.74" width="139.3" height="9.00" fill="#000500"/>
<rect x="2093.6" y="728.44" width="139.3" height="9.00" fill="#003200"/>
<rect x="2093.6" y="737.14" width="139.3" height="9.00" fill="#004600"/>
<rect x="2093.6" y="745.84" width="139.3" height="9.00" fill="#002300"/>
<rect x="2093.6" y="754.54" width="139.3" height="9.00" fill="#002d00"/>
<rect x="2093.6" y="763.25" width="139.3" height="9.00" fill="#008200"/>
<rect x="2093.6" y="771.95" width="139.3" height="9.00" fill="#007d00"/>
<rect x="2093.6" y="780.65" width="139.3" height="9.00" fill="#005f00"/>
<rect x="2093.6" y="789.35" width="139.3" height="9.00" fill="#006400"/>
<rect x="2093.6" y="798.05" width="139.3" height="9.00" fill="#006900"/>
<rect x="2093.6" y="806.75" width="139.3" height="26.40" fill="#006e00"/>
<rect x="2093.6" y="832.85" width="139.3" height="9.00" fill="#005f00"/>
<rect x="2093.6" y="841.55" width="139.3" height="9.00" fill="#006e00"/>
<rect x="2093.6" y="850.25" width="139.3" height="9.00" fill="#007800"/>
<rect x="2093.6" y="858.95" width="139.3" height="9.00" fill="#004b00"/>
<rect x="2093.6" y="867.65" width="139.3" height="17.70" fill="#005a00"/>
<rect x="2093.6" y="885.06" width="139.3" height="9.00" fill="#005500"/>
<rect x="2093.6" y="893.76" width="139.3" height="9.00" fill="#003200"/>
<rect x="2093.6" y="902.46" width="139.3" height="9.00" fill="#001900"/>
<rect x="2093.6" y="911.16" width="139.3" height="9.00" fill="#004100"/>
<rect x="2093.6" y="919.86" width="139.3" height="26.40" fill="#005500"/>
<rect x="2093.6" y="945.96" width="139.3" height="9.00" fill="#000000"/>
<rect x="2093.6" y="954.66" width="139.3" height="9.00" fill="#230000"/>
<rect x="2093.6" y="963.36" width="139.3" height="9.00" fill="#0f0000"/>
<rect x="2093.6" y="972.06" width="139.3" height="9.00" fill="#be0000"/>
<rect x="2093.6" y="980.77" width="139.3" height="9.00" fill="#c80000"/>
<rect x="2093.6" y="989.47" width="139.3" height="9.00" fill="#320000"/>
<rect x="2093.6" y="998.17" width="139.3" height="9.00" fill="#550000"/>
<rect x="2093.6" y="1006.87" width="139.3" height="9.00" fill="#6e0000"/>
<rect x="2093.6" y="1015.57" width="139.3" height="9.00" fill="#a00000"/>
<rect x="2093.6" y="1024.27" width="139.3" height="9.00" fill="#8c0000"/>
<rect x="2093.6" y="1032.97" width="139.3" height="9.00" fill="#320000"/>
<rect x="2093.6" y="1041.67" width="139.3" height="9.00" fill="#550000"/>
<rect x="2093.6" y="1050.37" width="139.3" height="17.70" fill="#000000"/>
<rect x="2093.6" y="1067.77" width="139.3" height="9.00" fill="#001900"/>
<rect x="2093.6" y="1076.47" width="139.3" height="9.00" fill="#000f00"/>
<rect x="2093.6" y="1085.18" width="139.3" height="9.00" fill="#000000"/>
<rect x="2093.6" y="1093.88" width="139.3" height="26.40" fill="#001e00"/>
<rect x="2093.6" y="1119.98" width="139.3" height="9.00" fill="#003c00"/>
<rect x="2093.6" y="1128.68" width="139.3" height="17.70" fill="#190000"/>
<rect x="2093.6" y="1146.08" width="139.3" height="17.70" fill="#000a00"/>
<rect x="2093.6" y="1163.48" width="139.3" height="52.50" fill="#ff0000"/>
<rect x="2093.6" y="1215.69" width="139.3" height="9.00" fill="#002800"/>
<rect x="2093.6" y="1224.39" width="139.3" height="9.00" fill="#000a00"/>
<rect x="2093.6" y="1233.09" width="139.3" height="9.00" fill="#0a0000"/>
<rect x="2093.6" y="1241.79" width="139.3" height="9.00" fill="#dc0000"/>
<rect x="2093.6" y="1250.49" width="139.3" height="9.00" fill="#d70000"/>
<rect x="2093.6" y="1259.19" width="139.3" height="9.00" fill="#e10000"/>
<rect x="2093.6" y="1267.89" width="139.3" height="9.00" fill="#eb0000"/>
<rect x="2093.6" y="1276.59" width="139.3" height="9.00" fill="#dc0000"/>
<rect x="2093.6" y="1285.29" width="139.3" height="9.00" fill="#cb0000"/>
<rect x="2093.6" y="1293.99" width="139.3" height="9.00" fill="#c30000"/>
<rect x="2093.6" y="1302.70" width="139.3" height="9.00" fill="#c00000"/>
<rect x="2093.6" y="1311.40" width="139.3" height="9.00" fill="#b60000"/>
<rect x="2093.6" y="1320.10" width="139.3" height="9.00" fill="#d70000"/>
<rect x="2093.6" y="1328.80" width="139.3" height="9.00" fill="#960000"/>
<rect x="2093.6" y="1337.50" width="139.3" height="9.00" fill="#6e0000"/>
<rect x="2093.6" y="1346.20" width="139.3" height="9.00" fill="#5a0000"/>
<rect x="2232.6" y="276.00" width="137.9" height="9.00" fill="#002800"/>
<rect x="2232.6" y="284.70" width="137.9" height="17.70" fill="#006400"/>
<rect x="2232.6" y="302.10" width="137.9" height="9.00" fill="#005000"/>
<rect x="2232.6" y="310.80" width="137.9" height="9.00" fill="#002d00"/>
<rect x="2232.6" y="319.50" width="137.9" height="9.00" fill="#008c00"/>
<rect x="2232.6" y="328.20" width="137.9" height="26.40" fill="#005a00"/>
<rect x="2232.6" y="354.31" width="137.9" height="9.00" fill="#002300"/>
<rect x="2232.6" y="363.01" width="137.9" height="9.00" fill="#005000"/>
<rect x="2232.6" y="371.71" width="137.9" height="9.00" fill="#005f00"/>
<rect x="2232.6" y="380.41" width="137.9" height="9.00" fill="#003200"/>
<rect x="2232.6" y="389.11" width="137.9" height="9.00" fill="#002d00"/>
<rect x="2232.6" y="397.81" width="137.9" height="9.00" fill="#005000"/>
<rect x="2232.6" y="406.51" width="137.9" height="9.00" fill="#001e00"/>
<rect x="2232.6" y="415.21" width="137.9" height="26.40" fill="#005a00"/>
<rect x="2232.6" y="441.32" width="137.9" height="9.00" fill="#0f0000"/>
<rect x="2232.6" y="450.02" width="137.9" height="9.00" fill="#280000"/>
<rect x="2232.6" y="458.72" width="137.9" height="9.00" fill="#005000"/>
<rect x="2232.6" y="467.42" width="137.9" height="9.00" fill="#006400"/>
<rect x="2232.6" y="476.12" width="137.9" height="17.70" fill="#001e00"/>
<rect x="2232.6" y="493.52" width="137.9" height="17.70" fill="#005f00"/>
<rect x="2232.6" y="510.92" width="137.9" height="9.00" fill="#005500"/>
<rect x="2232.6" y="519.62" width="137.9" height="9.00" fill="#005f00"/>
<rect x="2232.6" y="528.32" width="137.9" height="35.10" fill="#005a00"/>
<rect x="2232.6" y="563.13" width="137.9" height="9.00" fill="#006900"/>
<rect x="2232.6" y="571.83" width="137.9" height="9.00" fill="#005f00"/>
<rect x="2232.6" y="580.53" width="137.9" height="9.00" fill="#0a0000"/>
<rect x="2232.6" y="589.23" width="137.9" height="9.00" fill="#003200"/>
<rect x="2232.6" y="597.93" width="137.9" height="9.00" fill="#004600"/>
<rect x="2232.6" y="606.63" width="137.9" height="17.70" fill="#006400"/>
<rect x="2232.6" y="624.03" width="137.9" height="9.00" fill="#006e00"/>
<rect x="2232.6" y="632.73" width="137.9" height="9.00" fill="#006400"/>
<rect x="2232.6" y="641.43" width="137.9" height="9.00" fill="#005500"/>
<rect x="2232.6" y="650.13" width="137.9" height="17.70" fill="#005000"/>
<rect x="2232.6" y="667.54" width="137.9" height="9.00" fill="#007d00"/>
<rect x="2232.6" y="676.24" width="137.9" height="9.00" fill="#00c800"/>
<rect x="2232.6" y="684.94" width="137.9" height="9.00" fill="#004600"/>
<rect x="2232.6" y="693.64" width="137.9" height="9.00" fill="#006e00"/>
<rect x="2232.6" y="702.34" width="137.9" height="9.00" fill="#006400"/>
<rect x="2232.6" y="711.04" width="137.9" height="9.00" fill="#005500"/>
<rect x="2232.6" y="719.74" width="137.9" height="17.70" fill="#006e00"/>
<rect x="2232.6" y="737.14" width="137.9" height="9.00" fill="#007300"/>
<rect x="2232.6" y="745.84" width="137.9" height="9.00" fill="#00aa00"/>
<rect x="2232.6" y="754.54" width="137.9" height="9.00" fill="#00a000"/>
<rect x="2232.6" y="763.25" width="137.9" height="9.00" fill="#008200"/>
<rect x="2232.6" y="771.95" width="137.9" height="9.00" fill="#008c00"/>
<rect x="2232.6" y="780.65" width="137.9" height="17.70" fill="#008200"/>
<rect x="2232.6" y="798.05" width="137.9" height="9.00" fill="#00a000"/>
<rect x="2232.6" y="806.75" width="137.9" height="9.00" fill="#006e00"/>
<rect x="2232.6" y="815.45" width="137.9" height="9.00" fill="#004100"/>
<rect x="2232.6" y="824.15" width="137.9" height="17.70" fill="#007800"/>
<rect x="2232.6" y="841.55" width="137.9" height="9.00" fill="#003c00"/>
<rect x="2232.6" y="850.25" width="137.9" height="9.00" fill="#001e00"/>
<rect x="2232.6" y="858.95" width="137.9" height="9.00" fill="#005f00"/>
<rect x="2232.6" y="867.65" width="137.9" height="9.00" fill="#004600"/>
<rect x="2232.6" y="876.36" width="137.9" height="9.00" fill="#003c00"/>
<rect x="2232.6" y="885.06" width="137.9" height="17.70" fill="#004b00"/>
<rect x="2232.6" y="902.46" width="137.9" height="9.00" fill="#006400"/>
<rect x="2232.6" y="911.16" width="137.9" height="9.00" fill="#001900"/>
<rect x="2232.6" y="919.86" width="137.9" height="9.00" fill="#6e0000"/>
<rect x="2232.6" y="928.56" width="137.9" height="9.00" fill="#aa0000"/>
<rect x="2232.6" y="937.26" width="137.9" height="9.00" fill="#fa0000"/>
<rect x="2232.6" y="945.96" width="137.9" height="9.00" fill="#ff0000"/>
<rect x="2232.6" y="954.66" width="137.9" height="9.00" fill="#fa0000"/>
<rect x="2232.6" y="963.36" width="137.9" height="9.00" fill="#eb0000"/>
<rect x="2232.6" y="972.06" width="137.9" height="9.00" fill="#001400"/>
<rect x="2232.6" y="980.77" width="137.9" height="9.00" fill="#003c00"/>
<rect x="2232.6" y="989.47" width="137.9" height="9.00" fill="#8c0000"/>
<rect x="2232.6" y="998.17" width="137.9" height="9.00" fill="#000000"/>
<rect x="2232.6" y="1006.87" width="137.9" height="9.00" fill="#140000"/>
<rect x="2232.6" y="1015.57" width="137.9" height="9.00" fill="#000000"/>
<rect x="2232.6" y="1024.27" width="137.9" height="9.00" fill="#005a00"/>
<rect x="2232.6" y="1032.97" width="137.9" height="9.00" fill="#005500"/>
<rect x="2232.6" y="1041.67" width="137.9" height="9.00" fill="#006e00"/>
<rect x="2232.6" y="1050.37" width="137.9" height="9.00" fill="#000000"/>
<rect x="2232.6" y="1059.07" width="137.9" height="9.00" fill="#050000"/>
<rect x="2232.6" y="1067.77" width="137.9" height="17.70" fill="#0f0000"/>
<rect x="2232.6" y="1085.18" width="137.9" height="9.00" fill="#001900"/>
<rect x="2232.6" y="1093.88" width="137.9" height="9.00" fill="#002800"/>
<rect x="2232.6" y="1102.58" width="137.9" height="9.00" fill="#001400"/>
<rect x="2232.6" y="1111.28" width="137.9" height="9.00" fill="#000000"/>
<rect x="2232.6" y="1119.98" width="137.9" height="9.00" fill="#003200"/>
<rect x="2232.6" y="1128.68" width="137.9" height="17.70" fill="#002300"/>
<rect x="2232.6" y="1146.08" width="137.9" height="9.00" fill="#001e00"/>
<rect x="2232.6" y="1154.78" width="137.9" height="9.00" fill="#003c00"/>
<rect x="2232.6" y="1163.48" width="137.9" height="9.00" fill="#001e00"/>
<rect x="2232.6" y="1172.18" width="137.9" height="9.00" fill="#003c00"/>
<rect x="2232.6" y="1180.88" width="137.9" height="9.00" fill="#050000"/>
<rect x="2232.6" y="1189.58" width="137.9" height="9.00" fill="#002d00"/>
<rect x="2232.6" y="1198.29" width="137.9" height="17.70" fill="#000000"/>
<rect x="2232.6" y="1215.69" width="137.9" height="26.40" fill="#ff0000"/>
<rect x="2232.6" y="1241.79" width="137.9" height="9.00" fill="#780000"/>
<rect x="2232.6" y="1250.49" width="137.9" height="17.70" fill="#960000"/>
<rect x="2232.6" y="1267.89" width="137.9" height="9.00" fill="#8c0000"/>
<rect x="2232.6" y="1276.59" width="137.9" height="9.00" fill="#a00000"/>
<rect x="2232.6" y="1285.29" width="137.9" height="9.00" fill="#be0000"/>
<rect x="2232.6" y="1293.99" width="137.9" height="9.00" fill="#aa0000"/>
<rect x="2232.6" y="1302.70" width="137.9" height="9.00" fill="#820000"/>
<rect x="2232.6" y="1311.40" width="137.9" height="9.00" fill="#760000"/>
<rect x="2232.6" y="1320.10" width="137.9" height="9.00" fill="#960000"/>
<rect x="2232.6" y="1328.80" width="137.9" height="9.00" fill="#be0000"/>
<rect x="2232.6" y="1337.50" width="137.9" height="9.00" fill="#eb0000"/>
<rect x="2232.6" y="1346.20" width="137.9" height="9.00" fill="#e60000"/>
</g>
<rect x="1541.2" y="256.9" width="413.6" height="15.5" fill="#ff9289"/>
<rect x="1954.8" y="256.9" width="415.4" height="15.5" fill="#00d9e0"/>
<g stroke="#333" stroke-width="2" fill="none" stroke-linejoin="miter">
<path d="M1748.0 256.9V214.3H1885.9V256.9"/>
<path d="M1610.1 256.9V210.6H1817.0V214.3"/>
<path d="M2163.1 256.9V221.7H2301.4V256.9"/>
<path d="M2024.2 256.9V208.1H2232.2V221.7"/>
<path d="M1713.5 210.6V177.8H2128.2V208.1"/>
</g>
<path d="M1478.3 434.9H1463.0V1096.5H1475.7M1499.2 318.4H1478.3V551.4H1478.6M1520.6 298.8H1499.2V338.0H1516.7M1529.8 286.9H1520.6V310.8H1527.1M1541.2 280.4H1529.8V293.4H1533.0M1541.2 289.1H1533.0V297.8H1541.2M1541.2 306.5H1527.1V315.2H1541.2M1541.2 323.9H1516.7V352.1H1525.3M1535.8 339.1H1525.3V365.2H1530.0M1541.2 332.6H1535.8V345.6H1539.1M1541.2 341.3H1539.1V350.0H1541.2M1541.2 358.7H1530.0V371.7H1534.4M1541.2 367.4H1534.4V376.1H1541.2M1501.2 435.1H1478.6V667.7H1490.2M1522.7 404.9H1501.2V465.2H1507.7M1534.4 391.3H1522.7V418.5H1527.5M1541.2 384.8H1534.4V397.8H1534.9M1541.2 393.5H1534.9V402.2H1541.2M1541.2 410.9H1527.5V426.1H1532.2M1541.2 419.6H1532.2V432.6H1539.4M1541.2 428.3H1539.4V437.0H1541.2M1521.4 450.0H1507.7V480.5H1519.0M1541.2 445.7H1521.4V454.4H1541.2M1530.1 467.4H1519.0V493.5H1525.8M1541.2 463.1H1530.1V471.8H1541.2M1530.7 484.8H1525.8V502.2H1532.1M1541.2 480.5H1530.7V489.2H1541.2M1541.2 497.9H1532.1V506.6H1541.2M1505.2 575.7H1490.2V759.7H1498.2M1524.0 544.4H1505.2V607.0H1518.3M1532.5 523.4H1524.0V565.3H1526.7M1541.2 515.3H1532.5V531.6H1534.9M1541.2 524.0H1534.9V539.2H1538.0M1541.2 532.7H1538.0V545.7H1540.9M1541.2 541.4H1540.9V550.1H1541.2M1541.2 558.8H1526.7V571.8H1537.3M1541.2 567.5H1537.3V576.2H1541.2M1530.1 591.4H1518.3V622.7H1524.4M1541.2 584.9H1530.1V597.9H1535.4M1541.2 593.6H1535.4V602.3H1541.2M1541.2 611.0H1524.4V634.4H1530.8M1537.9 624.0H1530.8V644.7H1536.4M1541.2 619.7H1537.9V628.4H1541.2M1541.2 637.1H1536.4V652.3H1538.7M1541.2 645.8H1538.7V658.8H1540.9M1541.2 654.5H1540.9V663.2H1541.2M1513.1 686.6H1498.2V832.9H1506.7M1522.6 676.2H1513.1V696.9H1518.8M1541.2 671.9H1522.6V680.6H1541.2M1541.2 689.3H1518.8V704.5H1533.3M1541.2 698.0H1533.3V711.0H1536.9M1541.2 706.7H1536.9V715.4H1541.2M1514.2 782.8H1506.7V882.9H1519.5M1520.2 749.1H1514.2V816.5H1523.2M1528.9 730.6H1520.2V767.6H1526.3M1541.2 724.1H1528.9V737.1H1537.4M1541.2 732.8H1537.4V741.5H1541.2M1535.0 754.5H1526.3V780.6H1534.7M1541.2 750.2H1535.0V758.9H1541.2M1537.5 771.9H1534.7V789.3H1538.0M1541.2 767.6H1537.5V776.3H1541.2M1541.2 785.0H1538.0V793.7H1541.2M1534.4 806.7H1523.2V826.3H1529.5M1541.2 802.4H1534.4V811.1H1541.2M1541.2 819.8H1529.5V832.9H1535.5M1541.2 828.5H1535.5V837.2H1541.2M1529.2 860.0H1519.5V905.7H1527.7M1534.5 850.3H1529.2V869.8H1534.3M1541.2 845.9H1534.5V854.6H1541.2M1541.2 863.3H1534.3V876.4H1537.9M1541.2 872.0H1537.9V880.7H1541.2M1530.3 895.9H1527.7V915.5H1541.2M1541.2 889.4H1530.3V902.5H1534.8M1541.2 898.1H1534.8V906.8H1541.2M1488.5 972.4H1475.7V1220.6H1481.2M1506.9 941.6H1488.5V1003.1H1501.4M1531.7 928.6H1506.9V954.7H1520.6M1541.2 924.2H1531.7V932.9H1541.2M1523.1 946.0H1520.6V963.4H1532.8M1541.2 941.6H1523.1V950.3H1541.2M1541.2 959.0H1532.8V967.7H1541.2M1526.4 980.8H1501.4V1025.5H1505.9M1541.2 976.4H1526.4V985.1H1541.2M1541.2 993.8H1505.9V1057.2H1512.2M1520.0 1024.3H1512.2V1090.2H1521.6M1530.1 1013.4H1520.0V1035.1H1527.2M1534.3 1006.9H1530.1V1019.9H1541.2M1541.2 1002.5H1534.3V1011.2H1541.2M1541.2 1028.6H1527.2V1041.7H1532.4M1541.2 1037.3H1532.4V1046.0H1541.2M1529.9 1062.3H1521.6V1118.1H1526.9M1541.2 1054.7H1529.9V1069.9H1537.1M1541.2 1063.4H1537.1V1076.5H1537.9M1541.2 1072.1H1537.9V1080.8H1541.2M1533.7 1102.6H1526.9V1133.6H1528.4M1534.4 1093.9H1533.7V1111.3H1534.3M1541.2 1089.5H1534.4V1098.2H1541.2M1541.2 1106.9H1534.3V1115.6H1541.2M1541.2 1124.3H1528.4V1142.8H1529.0M1541.2 1133.0H1529.0V1152.6H1535.1M1535.9 1146.1H1535.1V1159.1H1541.2M1541.2 1141.7H1535.9V1150.4H1541.2M1517.2 1182.5H1481.2V1258.8H1495.9M1536.0 1172.2H1517.2V1192.8H1524.4M1541.2 1167.8H1536.0V1176.5H1541.2M1541.2 1185.2H1524.4V1200.5H1531.8M1541.2 1193.9H1531.8V1207.0H1532.9M1541.2 1202.6H1532.9V1211.3H1541.2M1516.2 1226.6H1495.9V1291.0H1508.7M1541.2 1220.0H1516.2V1233.1H1531.4M1541.2 1228.7H1531.4V1237.4H1541.2M1517.1 1260.3H1508.7V1321.7H1512.5M1541.2 1246.1H1517.1V1274.4H1524.4M1533.4 1261.4H1524.4V1287.5H1528.4M1541.2 1254.8H1533.4V1267.9H1539.5M1541.2 1263.5H1539.5V1272.2H1541.2M1541.2 1280.9H1528.4V1294.0H1532.7M1541.2 1289.6H1532.7V1298.3H1541.2M1534.9 1311.4H1512.5V1332.1H1523.0M1541.2 1307.0H1534.9V1315.7H1541.2M1541.2 1324.4H1523.0V1339.7H1531.5M1541.2 1333.1H1531.5V1346.2H1536.4M1541.2 1341.8H1536.4V1350.5H1541.2" stroke="#222" stroke-width="1.6" fill="none"/>
<defs><linearGradient id="lg" x1="0" y1="0" x2="0" y2="1"><stop offset="0" stop-color="#ff0000"/><stop offset="0.5" stop-color="#000000"/><stop offset="1" stop-color="#00ff00"/></linearGradient></defs>
<rect x="2378" y="276.1" width="15.4" height="222.8" fill="url(#lg)"/>
<text x="2375.6" y="269.3" font-size="14" font-weight="bold" fill="#111" textLength="43" lengthAdjust="spacingAndGlyphs" font-family="'Liberation Sans', sans-serif">Group</text>
<g font-size="14" fill="#333" font-family="'Liberation Sans', sans-serif">
<text x="2398.9" y="285.0">2</text>
<text x="2398.9" y="338.1">1</text>
<text x="2398.9" y="392.6">0</text>
<text x="2398.9" y="446.7">−1</text>
<text x="2398.9" y="500.8">−2</text>
</g>
<text transform="translate(1618.3 1372.2) rotate(90)" font-size="38.6" textLength="142" lengthAdjust="spacingAndGlyphs" stroke="#000" stroke-width="0.3" font-family="'Liberation Serif', serif" font-weight="bold">M1-BV2-</text>
<text transform="translate(1576.6 1372.2) rotate(90)" font-size="38.6" textLength="122" lengthAdjust="spacingAndGlyphs" stroke="#000" stroke-width="0.3" font-family="'Liberation Serif', serif" font-weight="bold">SEVs -2</text>
<text transform="translate(1755.2 1372.2) rotate(90)" font-size="38.6" textLength="142" lengthAdjust="spacingAndGlyphs" stroke="#000" stroke-width="0.3" font-family="'Liberation Serif', serif" font-weight="bold">M1-BV2-</text>
<text transform="translate(1712.9 1372.2) rotate(90)" font-size="38.6" textLength="122" lengthAdjust="spacingAndGlyphs" stroke="#000" stroke-width="0.3" font-family="'Liberation Serif', serif" font-weight="bold">SEVs- 1</text>
<text transform="translate(1898.3 1375.7) rotate(90)" font-size="38.6" textLength="142" lengthAdjust="spacingAndGlyphs" stroke="#000" stroke-width="0.3" font-family="'Liberation Serif', serif" font-weight="bold">M1-BV2-</text>
<text transform="translate(1857.5 1375.7) rotate(90)" font-size="38.6" textLength="122" lengthAdjust="spacingAndGlyphs" stroke="#000" stroke-width="0.3" font-family="'Liberation Serif', serif" font-weight="bold">SEVs- 3</text>
<text transform="translate(2027.2 1372.2) rotate(90)" font-size="38.6" textLength="142" lengthAdjust="spacingAndGlyphs" stroke="#000" stroke-width="0.3" font-family="'Liberation Serif', serif" font-weight="bold">M0-BV2-</text>
<text transform="translate(1985.7 1372.2) rotate(90)" font-size="38.6" textLength="122" lengthAdjust="spacingAndGlyphs" stroke="#000" stroke-width="0.3" font-family="'Liberation Serif', serif" font-weight="bold">SEVs- 3</text>
<text transform="translate(2167.1 1375.7) rotate(90)" font-size="38.6" textLength="142" lengthAdjust="spacingAndGlyphs" stroke="#000" stroke-width="0.3" font-family="'Liberation Serif', serif" font-weight="bold">M0-BV2-</text>
<text transform="translate(2125.9 1375.7) rotate(90)" font-size="38.6" textLength="122" lengthAdjust="spacingAndGlyphs" stroke="#000" stroke-width="0.3" font-family="'Liberation Serif', serif" font-weight="bold">SEVs- 1</text>
<text transform="translate(2307.2 1375.7) rotate(90)" font-size="38.6" textLength="142" lengthAdjust="spacingAndGlyphs" stroke="#000" stroke-width="0.3" font-family="'Liberation Serif', serif" font-weight="bold">M0-BV2-</text>
<text transform="translate(2265.7 1375.7) rotate(90)" font-size="38.6" textLength="122" lengthAdjust="spacingAndGlyphs" stroke="#000" stroke-width="0.3" font-family="'Liberation Serif', serif" font-weight="bold">SEVs- 2</text>
</svg>
</body></html>
